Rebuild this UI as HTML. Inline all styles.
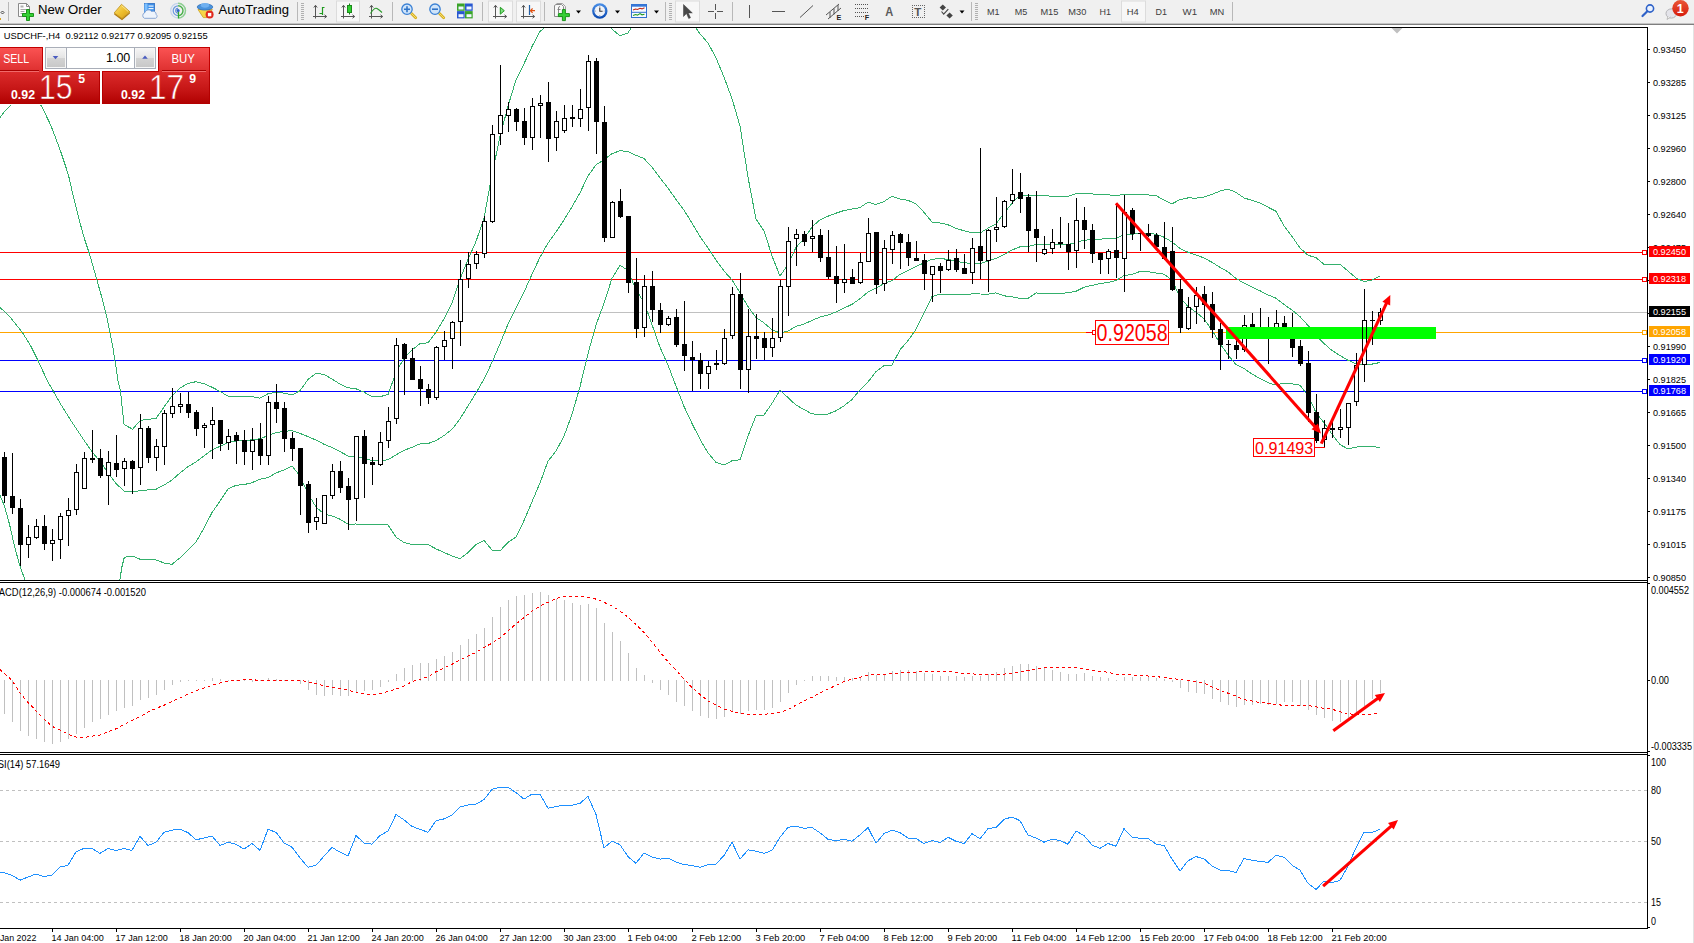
<!DOCTYPE html>
<html><head><meta charset="utf-8"><title>USDCHF-,H4</title>
<style>
html,body{margin:0;padding:0;background:#fff;overflow:hidden}
body{width:1694px;height:943px;position:relative;font-family:"Liberation Sans",sans-serif}
#tb{position:absolute;left:0;top:0;width:1694px;height:23px;background:#f0f0f0}
#tbl1{position:absolute;left:0;top:23px;width:1694px;height:2px;background:linear-gradient(#c4c4c4 0,#c4c4c4 50%,#7e7e7e 50%,#7e7e7e 100%)}
#chart{position:absolute;left:0;top:0}
svg text{font-family:"Liberation Sans",sans-serif}
#edge{position:absolute;left:1693px;top:25px;width:1px;height:918px;background:#e3e3e3}
</style></head><body>
<div id="tb"></div><div id="tbl1"></div><div id="edge"></div>
<svg id="chart" width="1694" height="943" viewBox="0 0 1694 943">
<defs><clipPath id="cmain"><rect x="0" y="28" width="1647" height="552"/></clipPath></defs>
<rect x="0" y="27" width="1648" height="1" fill="#000"/>
<rect x="1647" y="27" width="1" height="902" fill="#000"/>
<rect x="0" y="580" width="1648" height="1" fill="#000"/>
<rect x="0" y="582" width="1648" height="1" fill="#000"/>
<rect x="0" y="752" width="1648" height="1" fill="#000"/>
<rect x="0" y="754" width="1648" height="1" fill="#000"/>
<rect x="0" y="928" width="1648" height="1" fill="#000"/>
<rect x="1648" y="927" width="2" height="1" fill="#000"/>
<rect x="0" y="252" width="1647" height="1" fill="#ff0000"/>
<rect x="0" y="279" width="1647" height="1" fill="#ff0000"/>
<rect x="0" y="312" width="1647" height="1" fill="#c0c0c0"/>
<rect x="0" y="332" width="1647" height="1" fill="#ffa500"/>
<rect x="0" y="360" width="1647" height="1" fill="#0000ff"/>
<rect x="0" y="391" width="1647" height="1" fill="#0000ff"/>
<g shape-rendering="crispEdges">
<polyline points="0.0,117.5 5.0,111.0 11.0,104.8 18.0,99.0 26.0,96.0 34.0,99.0 41.4,105.7 50.9,125.5 60.5,150.9 68.4,174.8 73.8,198.6 79.5,220.9 84.3,238.4 89.1,252.7 95.5,275.0 101.8,297.3 106.6,316.4 109.8,332.3 113.0,348.2 115.5,364.1 118.4,383.2 120.5,390.6 122.0,405.5 124.1,424.5 132.6,429.2 140.4,420.3 148.5,419.2 156.0,418.5 164.0,407.1 172.0,395.7 180.0,388.1 188.0,383.4 196.0,381.7 204.0,383.7 212.0,387.2 220.0,391.4 228.0,396.2 236.0,396.7 244.0,396.8 252.0,396.7 260.0,398.2 268.0,393.8 276.0,392.2 284.0,393.1 292.0,395.1 300.0,390.7 308.0,379.5 316.0,373.3 324.0,374.5 332.0,379.0 340.0,384.1 348.0,387.8 356.0,388.8 364.0,392.1 372.0,396.8 380.0,396.7 388.0,394.5 396.0,372.8 404.0,358.0 412.0,350.1 420.0,343.5 428.0,342.8 436.0,332.3 444.0,318.7 452.0,302.7 460.0,279.2 468.0,259.5 476.0,241.5 484.0,218.1 492.0,174.7 500.0,136.6 508.0,106.1 516.0,79.9 524.0,63.8 532.0,46.5 540.0,31.5 548.0,25.0 556.0,12.9 564.0,3.7 572.0,-0.6 580.0,-1.0 588.0,-1.5 596.0,4.4 604.0,16.2 612.0,29.1 620.0,35.9 628.0,32.9 636.0,20.5 644.0,14.8 652.0,9.9 660.0,8.2 668.0,11.3 676.0,12.8 684.0,14.1 692.0,22.6 700.0,33.8 708.0,43.0 716.0,57.8 724.0,77.1 732.0,98.7 740.0,126.0 748.0,177.1 756.0,219.2 764.0,230.8 772.0,255.9 780.0,276.1 788.0,264.5 796.0,247.5 804.0,238.7 812.0,227.0 820.0,219.8 828.0,216.2 836.0,213.2 844.0,210.5 852.0,209.1 860.0,207.6 868.0,202.1 876.0,204.5 884.0,201.6 892.0,196.2 900.0,199.0 908.0,200.4 916.0,203.8 924.0,212.3 932.0,222.0 940.0,222.9 948.0,224.8 956.0,228.3 964.0,230.8 972.0,232.8 980.0,233.0 988.0,228.2 996.0,223.9 1004.0,213.2 1012.0,203.2 1020.0,195.3 1028.0,195.1 1036.0,195.6 1044.0,195.7 1052.0,196.2 1060.0,196.3 1068.0,196.2 1076.0,193.7 1084.0,193.4 1092.0,193.9 1100.0,194.6 1108.0,194.8 1116.0,195.6 1124.0,194.3 1132.0,194.1 1140.0,194.6 1148.0,194.9 1156.0,195.5 1164.0,200.1 1172.0,203.8 1180.0,199.6 1188.0,197.9 1196.0,198.1 1204.0,197.0 1212.0,194.3 1220.0,191.1 1228.0,189.0 1236.0,192.4 1244.0,197.9 1252.0,200.4 1260.0,202.9 1268.0,207.2 1276.0,211.3 1284.0,225.8 1292.0,236.4 1300.0,248.0 1308.0,255.2 1316.0,257.7 1324.0,264.3 1332.0,264.6 1340.0,264.3 1348.0,271.0 1356.0,278.0 1364.0,281.5 1372.0,280.0 1380.0,276.2" fill="none" stroke="#34b06c" stroke-width="1" clip-path="url(#cmain)"/>
<polyline points="0.0,307.4 9.5,316.4 22.3,332.3 30.2,345.0 38.2,360.9 47.4,381.0 53.0,390.6 61.5,405.5 72.1,422.4 84.8,441.5 92.3,452.1 100.3,461.7 108.4,473.3 116.4,483.9 124.3,491.3 132.3,491.8 140.4,490.7 148.5,489.9 156.0,489.2 164.0,485.1 172.0,480.0 180.0,472.9 188.0,466.7 196.0,461.8 204.0,455.9 212.0,449.9 220.0,446.3 228.0,442.5 236.0,441.0 244.0,440.7 252.0,439.7 260.0,438.7 268.0,435.7 276.0,432.6 284.0,431.5 292.0,430.5 300.0,433.4 308.0,436.6 316.0,440.1 324.0,444.2 332.0,447.5 340.0,451.6 348.0,456.0 356.0,456.4 364.0,458.3 372.0,460.6 380.0,460.5 388.0,459.8 396.0,454.9 404.0,450.3 412.0,447.3 420.0,443.9 428.0,443.6 436.0,440.6 444.0,435.6 452.0,429.3 460.0,418.9 468.0,406.0 476.0,392.9 484.0,379.2 492.0,362.3 500.0,343.7 508.0,324.2 516.0,308.4 524.0,292.2 532.0,274.2 540.0,257.2 548.0,243.1 556.0,231.9 564.0,219.9 572.0,206.8 580.0,192.8 588.0,176.0 596.0,164.8 604.0,159.7 612.0,153.7 620.0,150.7 628.0,151.6 636.0,155.3 644.0,158.5 652.0,167.3 660.0,177.8 668.0,188.2 676.0,199.4 684.0,210.2 692.0,223.0 700.0,236.6 708.0,247.9 716.0,260.1 724.0,271.0 732.0,279.8 740.0,292.8 748.0,306.6 756.0,317.4 764.0,322.9 772.0,329.7 780.0,333.1 788.0,331.0 796.0,326.3 804.0,324.1 812.0,320.4 820.0,317.1 828.0,315.1 836.0,312.0 844.0,308.1 852.0,304.3 860.0,298.7 868.0,292.1 876.0,288.1 884.0,283.6 892.0,280.7 900.0,274.4 908.0,270.5 916.0,266.6 924.0,262.8 932.0,259.3 940.0,258.5 948.0,259.4 956.0,261.2 964.0,262.8 972.0,263.4 980.0,263.5 988.0,261.2 996.0,258.4 1004.0,254.5 1012.0,250.0 1020.0,246.8 1028.0,246.7 1036.0,244.3 1044.0,244.4 1052.0,244.7 1060.0,244.8 1068.0,244.5 1076.0,242.5 1084.0,240.3 1092.0,239.6 1100.0,239.1 1108.0,238.7 1116.0,238.1 1124.0,235.0 1132.0,234.3 1140.0,233.0 1148.0,233.2 1156.0,234.2 1164.0,237.2 1172.0,242.0 1180.0,248.4 1188.0,252.3 1196.0,255.1 1204.0,257.9 1212.0,262.3 1220.0,267.3 1228.0,271.9 1236.0,278.4 1244.0,283.2 1252.0,287.2 1260.0,290.8 1268.0,294.9 1276.0,298.2 1284.0,304.5 1292.0,310.1 1300.0,316.6 1308.0,325.4 1316.0,335.1 1324.0,343.5 1332.0,350.5 1340.0,355.5 1348.0,360.3 1356.0,363.8 1364.0,364.6 1372.0,364.1 1380.0,362.5" fill="none" stroke="#34b06c" stroke-width="1" clip-path="url(#cmain)"/>
<polyline points="0.0,495.6 4.2,505.1 9.5,524.2 14.8,547.6 20.1,566.6 25.0,580.0" fill="none" stroke="#34b06c" stroke-width="1" clip-path="url(#cmain)"/>
<polyline points="119.8,580.0 122.0,566.6 124.1,558.2 127.3,556.5 132.3,556.0 140.0,559.2 148.5,559.9 156.0,559.9 164.0,563.0 172.0,564.3 180.0,557.8 188.0,550.0 196.0,541.9 204.0,528.1 212.0,512.6 220.0,501.1 228.0,488.9 236.0,485.3 244.0,484.6 252.0,482.7 260.0,479.2 268.0,477.6 276.0,473.0 284.0,469.9 292.0,465.9 300.0,476.1 308.0,493.7 316.0,507.0 324.0,514.0 332.0,515.9 340.0,519.2 348.0,524.2 356.0,524.0 364.0,524.4 372.0,524.3 380.0,524.3 388.0,525.0 396.0,537.1 404.0,542.5 412.0,544.5 420.0,544.2 428.0,544.4 436.0,548.9 444.0,552.5 452.0,555.9 460.0,558.7 468.0,552.6 476.0,544.4 484.0,540.4 492.0,550.0 500.0,550.9 508.0,542.3 516.0,537.0 524.0,520.6 532.0,501.8 540.0,482.9 548.0,461.2 556.0,451.0 564.0,436.1 572.0,414.3 580.0,386.7 588.0,353.6 596.0,325.1 604.0,303.2 612.0,278.3 620.0,265.4 628.0,270.2 636.0,290.0 644.0,302.2 652.0,324.7 660.0,347.3 668.0,365.1 676.0,386.0 684.0,406.4 692.0,423.4 700.0,439.3 708.0,452.8 716.0,462.4 724.0,465.0 732.0,460.8 740.0,459.7 748.0,436.0 756.0,415.7 764.0,415.0 772.0,403.4 780.0,390.1 788.0,397.6 796.0,405.1 804.0,409.5 812.0,413.9 820.0,414.4 828.0,414.0 836.0,410.8 844.0,405.8 852.0,399.5 860.0,389.8 868.0,382.0 876.0,371.6 884.0,365.6 892.0,365.2 900.0,349.8 908.0,340.6 916.0,329.4 924.0,313.4 932.0,296.6 940.0,294.1 948.0,294.1 956.0,294.2 964.0,294.9 972.0,293.9 980.0,294.0 988.0,294.2 996.0,292.9 1004.0,295.8 1012.0,296.9 1020.0,298.3 1028.0,298.3 1036.0,293.0 1044.0,293.1 1052.0,293.3 1060.0,293.3 1068.0,292.8 1076.0,291.2 1084.0,287.2 1092.0,285.4 1100.0,283.6 1108.0,282.5 1116.0,280.5 1124.0,275.6 1132.0,274.5 1140.0,271.4 1148.0,271.6 1156.0,273.0 1164.0,274.2 1172.0,280.1 1180.0,297.2 1188.0,306.6 1196.0,312.2 1204.0,318.8 1212.0,330.2 1220.0,343.5 1228.0,354.9 1236.0,364.5 1244.0,368.5 1252.0,374.0 1260.0,378.6 1268.0,382.7 1276.0,385.1 1284.0,383.1 1292.0,383.9 1300.0,385.2 1308.0,395.6 1316.0,412.6 1324.0,422.8 1332.0,434.1 1340.0,444.6 1348.0,448.9 1356.0,447.2 1364.0,446.0 1372.0,446.4 1380.0,447.5" fill="none" stroke="#34b06c" stroke-width="1" clip-path="url(#cmain)"/>
</g>
<rect x="4" y="452" width="1" height="51" fill="#000"/>
<rect x="2" y="457" width="5" height="39" fill="#000"/>
<rect x="12" y="453" width="1" height="61" fill="#000"/>
<rect x="10" y="496" width="5" height="12" fill="#000"/>
<rect x="20" y="499" width="1" height="67" fill="#000"/>
<rect x="18" y="508" width="5" height="37" fill="#000"/>
<rect x="28" y="525" width="1" height="33" fill="#000"/>
<rect x="26" y="537" width="5" height="8" fill="#000"/>
<rect x="27" y="538" width="3" height="6" fill="#fff"/>
<rect x="36" y="519" width="1" height="20" fill="#000"/>
<rect x="34" y="526" width="5" height="12" fill="#000"/>
<rect x="35" y="527" width="3" height="10" fill="#fff"/>
<rect x="44" y="515" width="1" height="35" fill="#000"/>
<rect x="42" y="526" width="5" height="18" fill="#000"/>
<rect x="52" y="529" width="1" height="32" fill="#000"/>
<rect x="50" y="540" width="5" height="4" fill="#000"/>
<rect x="51" y="541" width="3" height="2" fill="#fff"/>
<rect x="60" y="513" width="1" height="46" fill="#000"/>
<rect x="58" y="516" width="5" height="24" fill="#000"/>
<rect x="59" y="517" width="3" height="22" fill="#fff"/>
<rect x="68" y="498" width="1" height="48" fill="#000"/>
<rect x="66" y="510" width="5" height="6" fill="#000"/>
<rect x="67" y="511" width="3" height="4" fill="#fff"/>
<rect x="76" y="464" width="1" height="51" fill="#000"/>
<rect x="74" y="472" width="5" height="38" fill="#000"/>
<rect x="75" y="473" width="3" height="36" fill="#fff"/>
<rect x="84" y="452" width="1" height="37" fill="#000"/>
<rect x="82" y="458" width="5" height="31" fill="#000"/>
<rect x="83" y="459" width="3" height="29" fill="#fff"/>
<rect x="92" y="430" width="1" height="33" fill="#000"/>
<rect x="90" y="458" width="5" height="2" fill="#000"/>
<rect x="100" y="449" width="1" height="29" fill="#000"/>
<rect x="98" y="458" width="5" height="18" fill="#000"/>
<rect x="108" y="451" width="1" height="54" fill="#000"/>
<rect x="106" y="462" width="5" height="14" fill="#000"/>
<rect x="107" y="463" width="3" height="12" fill="#fff"/>
<rect x="116" y="435" width="1" height="42" fill="#000"/>
<rect x="114" y="463" width="5" height="7" fill="#000"/>
<rect x="124" y="458" width="1" height="28" fill="#000"/>
<rect x="122" y="461" width="5" height="8" fill="#000"/>
<rect x="123" y="462" width="3" height="6" fill="#fff"/>
<rect x="132" y="460" width="1" height="34" fill="#000"/>
<rect x="130" y="461" width="5" height="8" fill="#000"/>
<rect x="140" y="414" width="1" height="71" fill="#000"/>
<rect x="138" y="428" width="5" height="40" fill="#000"/>
<rect x="139" y="429" width="3" height="38" fill="#fff"/>
<rect x="148" y="426" width="1" height="37" fill="#000"/>
<rect x="146" y="428" width="5" height="30" fill="#000"/>
<rect x="156" y="439" width="1" height="32" fill="#000"/>
<rect x="154" y="446" width="5" height="12" fill="#000"/>
<rect x="155" y="447" width="3" height="10" fill="#fff"/>
<rect x="164" y="410" width="1" height="55" fill="#000"/>
<rect x="162" y="413" width="5" height="34" fill="#000"/>
<rect x="163" y="414" width="3" height="32" fill="#fff"/>
<rect x="172" y="388" width="1" height="30" fill="#000"/>
<rect x="170" y="406" width="5" height="8" fill="#000"/>
<rect x="171" y="407" width="3" height="6" fill="#fff"/>
<rect x="180" y="393" width="1" height="20" fill="#000"/>
<rect x="178" y="404" width="5" height="3" fill="#000"/>
<rect x="179" y="405" width="3" height="1" fill="#fff"/>
<rect x="188" y="392" width="1" height="26" fill="#000"/>
<rect x="186" y="404" width="5" height="9" fill="#000"/>
<rect x="196" y="410" width="1" height="26" fill="#000"/>
<rect x="194" y="412" width="5" height="17" fill="#000"/>
<rect x="204" y="423" width="1" height="25" fill="#000"/>
<rect x="202" y="425" width="5" height="3" fill="#000"/>
<rect x="203" y="426" width="3" height="1" fill="#fff"/>
<rect x="212" y="407" width="1" height="52" fill="#000"/>
<rect x="210" y="420" width="5" height="5" fill="#000"/>
<rect x="211" y="421" width="3" height="3" fill="#fff"/>
<rect x="220" y="420" width="1" height="31" fill="#000"/>
<rect x="218" y="420" width="5" height="24" fill="#000"/>
<rect x="228" y="429" width="1" height="21" fill="#000"/>
<rect x="226" y="436" width="5" height="7" fill="#000"/>
<rect x="227" y="437" width="3" height="5" fill="#fff"/>
<rect x="236" y="432" width="1" height="32" fill="#000"/>
<rect x="234" y="435" width="5" height="6" fill="#000"/>
<rect x="244" y="430" width="1" height="35" fill="#000"/>
<rect x="242" y="440" width="5" height="12" fill="#000"/>
<rect x="252" y="428" width="1" height="42" fill="#000"/>
<rect x="250" y="440" width="5" height="12" fill="#000"/>
<rect x="251" y="441" width="3" height="10" fill="#fff"/>
<rect x="260" y="423" width="1" height="42" fill="#000"/>
<rect x="258" y="439" width="5" height="17" fill="#000"/>
<rect x="268" y="396" width="1" height="69" fill="#000"/>
<rect x="266" y="402" width="5" height="54" fill="#000"/>
<rect x="267" y="403" width="3" height="52" fill="#fff"/>
<rect x="276" y="384" width="1" height="39" fill="#000"/>
<rect x="274" y="402" width="5" height="7" fill="#000"/>
<rect x="284" y="402" width="1" height="50" fill="#000"/>
<rect x="282" y="408" width="5" height="31" fill="#000"/>
<rect x="292" y="432" width="1" height="29" fill="#000"/>
<rect x="290" y="438" width="5" height="11" fill="#000"/>
<rect x="300" y="448" width="1" height="67" fill="#000"/>
<rect x="298" y="448" width="5" height="38" fill="#000"/>
<rect x="308" y="481" width="1" height="52" fill="#000"/>
<rect x="306" y="484" width="5" height="39" fill="#000"/>
<rect x="316" y="498" width="1" height="32" fill="#000"/>
<rect x="314" y="517" width="5" height="5" fill="#000"/>
<rect x="315" y="518" width="3" height="3" fill="#fff"/>
<rect x="324" y="495" width="1" height="29" fill="#000"/>
<rect x="322" y="495" width="5" height="29" fill="#000"/>
<rect x="323" y="496" width="3" height="27" fill="#fff"/>
<rect x="332" y="464" width="1" height="35" fill="#000"/>
<rect x="330" y="471" width="5" height="25" fill="#000"/>
<rect x="331" y="472" width="3" height="23" fill="#fff"/>
<rect x="340" y="461" width="1" height="32" fill="#000"/>
<rect x="338" y="471" width="5" height="17" fill="#000"/>
<rect x="348" y="478" width="1" height="52" fill="#000"/>
<rect x="346" y="486" width="5" height="14" fill="#000"/>
<rect x="356" y="436" width="1" height="85" fill="#000"/>
<rect x="354" y="436" width="5" height="63" fill="#000"/>
<rect x="355" y="437" width="3" height="61" fill="#fff"/>
<rect x="364" y="430" width="1" height="68" fill="#000"/>
<rect x="362" y="436" width="5" height="28" fill="#000"/>
<rect x="372" y="457" width="1" height="28" fill="#000"/>
<rect x="370" y="462" width="5" height="3" fill="#000"/>
<rect x="380" y="432" width="1" height="34" fill="#000"/>
<rect x="378" y="442" width="5" height="23" fill="#000"/>
<rect x="379" y="443" width="3" height="21" fill="#fff"/>
<rect x="388" y="407" width="1" height="41" fill="#000"/>
<rect x="386" y="421" width="5" height="20" fill="#000"/>
<rect x="387" y="422" width="3" height="18" fill="#fff"/>
<rect x="396" y="338" width="1" height="86" fill="#000"/>
<rect x="394" y="345" width="5" height="74" fill="#000"/>
<rect x="395" y="346" width="3" height="72" fill="#fff"/>
<rect x="404" y="343" width="1" height="52" fill="#000"/>
<rect x="402" y="344" width="5" height="15" fill="#000"/>
<rect x="412" y="348" width="1" height="32" fill="#000"/>
<rect x="410" y="358" width="5" height="22" fill="#000"/>
<rect x="420" y="366" width="1" height="40" fill="#000"/>
<rect x="418" y="379" width="5" height="10" fill="#000"/>
<rect x="428" y="384" width="1" height="20" fill="#000"/>
<rect x="426" y="389" width="5" height="9" fill="#000"/>
<rect x="436" y="346" width="1" height="54" fill="#000"/>
<rect x="434" y="347" width="5" height="51" fill="#000"/>
<rect x="435" y="348" width="3" height="49" fill="#fff"/>
<rect x="444" y="331" width="1" height="29" fill="#000"/>
<rect x="442" y="340" width="5" height="7" fill="#000"/>
<rect x="443" y="341" width="3" height="5" fill="#fff"/>
<rect x="452" y="321" width="1" height="48" fill="#000"/>
<rect x="450" y="322" width="5" height="17" fill="#000"/>
<rect x="451" y="323" width="3" height="15" fill="#fff"/>
<rect x="460" y="260" width="1" height="86" fill="#000"/>
<rect x="458" y="279" width="5" height="43" fill="#000"/>
<rect x="459" y="280" width="3" height="41" fill="#fff"/>
<rect x="468" y="252" width="1" height="36" fill="#000"/>
<rect x="466" y="264" width="5" height="15" fill="#000"/>
<rect x="467" y="265" width="3" height="13" fill="#fff"/>
<rect x="476" y="251" width="1" height="18" fill="#000"/>
<rect x="474" y="254" width="5" height="10" fill="#000"/>
<rect x="475" y="255" width="3" height="8" fill="#fff"/>
<rect x="484" y="216" width="1" height="42" fill="#000"/>
<rect x="482" y="221" width="5" height="33" fill="#000"/>
<rect x="483" y="222" width="3" height="31" fill="#fff"/>
<rect x="492" y="125" width="1" height="98" fill="#000"/>
<rect x="490" y="134" width="5" height="88" fill="#000"/>
<rect x="491" y="135" width="3" height="86" fill="#fff"/>
<rect x="500" y="65" width="1" height="80" fill="#000"/>
<rect x="498" y="115" width="5" height="19" fill="#000"/>
<rect x="499" y="116" width="3" height="17" fill="#fff"/>
<rect x="508" y="102" width="1" height="30" fill="#000"/>
<rect x="506" y="109" width="5" height="7" fill="#000"/>
<rect x="507" y="110" width="3" height="5" fill="#fff"/>
<rect x="516" y="108" width="1" height="23" fill="#000"/>
<rect x="514" y="109" width="5" height="13" fill="#000"/>
<rect x="524" y="108" width="1" height="37" fill="#000"/>
<rect x="522" y="121" width="5" height="17" fill="#000"/>
<rect x="532" y="98" width="1" height="52" fill="#000"/>
<rect x="530" y="106" width="5" height="32" fill="#000"/>
<rect x="531" y="107" width="3" height="30" fill="#fff"/>
<rect x="540" y="95" width="1" height="43" fill="#000"/>
<rect x="538" y="103" width="5" height="3" fill="#000"/>
<rect x="539" y="104" width="3" height="1" fill="#fff"/>
<rect x="548" y="82" width="1" height="80" fill="#000"/>
<rect x="546" y="102" width="5" height="37" fill="#000"/>
<rect x="556" y="111" width="1" height="40" fill="#000"/>
<rect x="554" y="121" width="5" height="17" fill="#000"/>
<rect x="555" y="122" width="3" height="15" fill="#fff"/>
<rect x="564" y="105" width="1" height="28" fill="#000"/>
<rect x="562" y="118" width="5" height="13" fill="#000"/>
<rect x="563" y="119" width="3" height="11" fill="#fff"/>
<rect x="572" y="105" width="1" height="22" fill="#000"/>
<rect x="570" y="117" width="5" height="2" fill="#000"/>
<rect x="580" y="89" width="1" height="38" fill="#000"/>
<rect x="578" y="109" width="5" height="10" fill="#000"/>
<rect x="579" y="110" width="3" height="8" fill="#fff"/>
<rect x="588" y="55" width="1" height="76" fill="#000"/>
<rect x="586" y="61" width="5" height="47" fill="#000"/>
<rect x="587" y="62" width="3" height="45" fill="#fff"/>
<rect x="596" y="58" width="1" height="96" fill="#000"/>
<rect x="594" y="61" width="5" height="61" fill="#000"/>
<rect x="604" y="106" width="1" height="136" fill="#000"/>
<rect x="602" y="122" width="5" height="116" fill="#000"/>
<rect x="612" y="201" width="1" height="37" fill="#000"/>
<rect x="610" y="202" width="5" height="36" fill="#000"/>
<rect x="611" y="203" width="3" height="34" fill="#fff"/>
<rect x="620" y="189" width="1" height="29" fill="#000"/>
<rect x="618" y="201" width="5" height="16" fill="#000"/>
<rect x="628" y="216" width="1" height="77" fill="#000"/>
<rect x="626" y="216" width="5" height="67" fill="#000"/>
<rect x="636" y="258" width="1" height="80" fill="#000"/>
<rect x="634" y="282" width="5" height="47" fill="#000"/>
<rect x="644" y="275" width="1" height="62" fill="#000"/>
<rect x="642" y="286" width="5" height="42" fill="#000"/>
<rect x="643" y="287" width="3" height="40" fill="#fff"/>
<rect x="652" y="271" width="1" height="51" fill="#000"/>
<rect x="650" y="286" width="5" height="24" fill="#000"/>
<rect x="660" y="303" width="1" height="30" fill="#000"/>
<rect x="658" y="310" width="5" height="15" fill="#000"/>
<rect x="668" y="316" width="1" height="10" fill="#000"/>
<rect x="666" y="318" width="5" height="7" fill="#000"/>
<rect x="667" y="319" width="3" height="5" fill="#fff"/>
<rect x="676" y="309" width="1" height="38" fill="#000"/>
<rect x="674" y="317" width="5" height="28" fill="#000"/>
<rect x="684" y="301" width="1" height="70" fill="#000"/>
<rect x="682" y="344" width="5" height="12" fill="#000"/>
<rect x="692" y="341" width="1" height="50" fill="#000"/>
<rect x="690" y="357" width="5" height="3" fill="#000"/>
<rect x="700" y="353" width="1" height="36" fill="#000"/>
<rect x="698" y="360" width="5" height="14" fill="#000"/>
<rect x="708" y="361" width="1" height="28" fill="#000"/>
<rect x="706" y="366" width="5" height="8" fill="#000"/>
<rect x="707" y="367" width="3" height="6" fill="#fff"/>
<rect x="716" y="350" width="1" height="20" fill="#000"/>
<rect x="714" y="363" width="5" height="2" fill="#000"/>
<rect x="724" y="329" width="1" height="36" fill="#000"/>
<rect x="722" y="338" width="5" height="26" fill="#000"/>
<rect x="723" y="339" width="3" height="24" fill="#fff"/>
<rect x="732" y="287" width="1" height="52" fill="#000"/>
<rect x="730" y="294" width="5" height="42" fill="#000"/>
<rect x="731" y="295" width="3" height="40" fill="#fff"/>
<rect x="740" y="273" width="1" height="116" fill="#000"/>
<rect x="738" y="294" width="5" height="76" fill="#000"/>
<rect x="748" y="309" width="1" height="84" fill="#000"/>
<rect x="746" y="336" width="5" height="34" fill="#000"/>
<rect x="747" y="337" width="3" height="32" fill="#fff"/>
<rect x="756" y="314" width="1" height="45" fill="#000"/>
<rect x="754" y="336" width="5" height="3" fill="#000"/>
<rect x="764" y="332" width="1" height="28" fill="#000"/>
<rect x="762" y="338" width="5" height="10" fill="#000"/>
<rect x="772" y="318" width="1" height="39" fill="#000"/>
<rect x="770" y="338" width="5" height="10" fill="#000"/>
<rect x="771" y="339" width="3" height="8" fill="#fff"/>
<rect x="780" y="280" width="1" height="62" fill="#000"/>
<rect x="778" y="286" width="5" height="52" fill="#000"/>
<rect x="779" y="287" width="3" height="50" fill="#fff"/>
<rect x="788" y="227" width="1" height="89" fill="#000"/>
<rect x="786" y="241" width="5" height="46" fill="#000"/>
<rect x="787" y="242" width="3" height="44" fill="#fff"/>
<rect x="796" y="229" width="1" height="37" fill="#000"/>
<rect x="794" y="234" width="5" height="5" fill="#000"/>
<rect x="795" y="235" width="3" height="3" fill="#fff"/>
<rect x="804" y="231" width="1" height="15" fill="#000"/>
<rect x="802" y="234" width="5" height="8" fill="#000"/>
<rect x="812" y="220" width="1" height="32" fill="#000"/>
<rect x="810" y="236" width="5" height="3" fill="#000"/>
<rect x="811" y="237" width="3" height="1" fill="#fff"/>
<rect x="820" y="229" width="1" height="33" fill="#000"/>
<rect x="818" y="235" width="5" height="23" fill="#000"/>
<rect x="828" y="230" width="1" height="49" fill="#000"/>
<rect x="826" y="257" width="5" height="20" fill="#000"/>
<rect x="836" y="246" width="1" height="57" fill="#000"/>
<rect x="834" y="276" width="5" height="8" fill="#000"/>
<rect x="844" y="244" width="1" height="49" fill="#000"/>
<rect x="842" y="279" width="5" height="4" fill="#000"/>
<rect x="843" y="280" width="3" height="2" fill="#fff"/>
<rect x="852" y="269" width="1" height="15" fill="#000"/>
<rect x="850" y="277" width="5" height="7" fill="#000"/>
<rect x="860" y="253" width="1" height="31" fill="#000"/>
<rect x="858" y="262" width="5" height="21" fill="#000"/>
<rect x="859" y="263" width="3" height="19" fill="#fff"/>
<rect x="868" y="218" width="1" height="44" fill="#000"/>
<rect x="866" y="233" width="5" height="29" fill="#000"/>
<rect x="867" y="234" width="3" height="27" fill="#fff"/>
<rect x="876" y="232" width="1" height="62" fill="#000"/>
<rect x="874" y="232" width="5" height="53" fill="#000"/>
<rect x="884" y="240" width="1" height="51" fill="#000"/>
<rect x="882" y="248" width="5" height="36" fill="#000"/>
<rect x="883" y="249" width="3" height="34" fill="#fff"/>
<rect x="892" y="231" width="1" height="33" fill="#000"/>
<rect x="890" y="235" width="5" height="15" fill="#000"/>
<rect x="891" y="236" width="3" height="13" fill="#fff"/>
<rect x="900" y="233" width="1" height="36" fill="#000"/>
<rect x="898" y="234" width="5" height="9" fill="#000"/>
<rect x="908" y="234" width="1" height="32" fill="#000"/>
<rect x="906" y="242" width="5" height="16" fill="#000"/>
<rect x="916" y="241" width="1" height="20" fill="#000"/>
<rect x="914" y="258" width="5" height="3" fill="#000"/>
<rect x="924" y="254" width="1" height="36" fill="#000"/>
<rect x="922" y="260" width="5" height="14" fill="#000"/>
<rect x="932" y="266" width="1" height="36" fill="#000"/>
<rect x="930" y="266" width="5" height="9" fill="#000"/>
<rect x="931" y="267" width="3" height="7" fill="#fff"/>
<rect x="940" y="263" width="1" height="30" fill="#000"/>
<rect x="938" y="266" width="5" height="5" fill="#000"/>
<rect x="948" y="250" width="1" height="21" fill="#000"/>
<rect x="946" y="260" width="5" height="10" fill="#000"/>
<rect x="947" y="261" width="3" height="8" fill="#fff"/>
<rect x="956" y="249" width="1" height="23" fill="#000"/>
<rect x="954" y="258" width="5" height="12" fill="#000"/>
<rect x="964" y="254" width="1" height="20" fill="#000"/>
<rect x="962" y="268" width="5" height="6" fill="#000"/>
<rect x="972" y="238" width="1" height="46" fill="#000"/>
<rect x="970" y="248" width="5" height="25" fill="#000"/>
<rect x="971" y="249" width="3" height="23" fill="#fff"/>
<rect x="980" y="148" width="1" height="131" fill="#000"/>
<rect x="978" y="246" width="5" height="15" fill="#000"/>
<rect x="988" y="229" width="1" height="63" fill="#000"/>
<rect x="986" y="230" width="5" height="31" fill="#000"/>
<rect x="987" y="231" width="3" height="29" fill="#fff"/>
<rect x="996" y="197" width="1" height="45" fill="#000"/>
<rect x="994" y="227" width="5" height="3" fill="#000"/>
<rect x="995" y="228" width="3" height="1" fill="#fff"/>
<rect x="1004" y="200" width="1" height="28" fill="#000"/>
<rect x="1002" y="201" width="5" height="26" fill="#000"/>
<rect x="1003" y="202" width="3" height="24" fill="#fff"/>
<rect x="1012" y="169" width="1" height="35" fill="#000"/>
<rect x="1010" y="194" width="5" height="7" fill="#000"/>
<rect x="1011" y="195" width="3" height="5" fill="#fff"/>
<rect x="1020" y="173" width="1" height="40" fill="#000"/>
<rect x="1018" y="192" width="5" height="7" fill="#000"/>
<rect x="1028" y="194" width="1" height="58" fill="#000"/>
<rect x="1026" y="197" width="5" height="34" fill="#000"/>
<rect x="1036" y="191" width="1" height="71" fill="#000"/>
<rect x="1034" y="229" width="5" height="9" fill="#000"/>
<rect x="1044" y="236" width="1" height="19" fill="#000"/>
<rect x="1042" y="249" width="5" height="5" fill="#000"/>
<rect x="1043" y="250" width="3" height="3" fill="#fff"/>
<rect x="1052" y="229" width="1" height="25" fill="#000"/>
<rect x="1050" y="242" width="5" height="7" fill="#000"/>
<rect x="1051" y="243" width="3" height="5" fill="#fff"/>
<rect x="1060" y="217" width="1" height="31" fill="#000"/>
<rect x="1058" y="242" width="5" height="2" fill="#000"/>
<rect x="1068" y="223" width="1" height="47" fill="#000"/>
<rect x="1066" y="244" width="5" height="8" fill="#000"/>
<rect x="1076" y="198" width="1" height="70" fill="#000"/>
<rect x="1074" y="220" width="5" height="31" fill="#000"/>
<rect x="1075" y="221" width="3" height="29" fill="#fff"/>
<rect x="1084" y="207" width="1" height="42" fill="#000"/>
<rect x="1082" y="220" width="5" height="10" fill="#000"/>
<rect x="1092" y="224" width="1" height="39" fill="#000"/>
<rect x="1090" y="230" width="5" height="24" fill="#000"/>
<rect x="1100" y="253" width="1" height="21" fill="#000"/>
<rect x="1098" y="253" width="5" height="7" fill="#000"/>
<rect x="1108" y="249" width="1" height="25" fill="#000"/>
<rect x="1106" y="251" width="5" height="8" fill="#000"/>
<rect x="1107" y="252" width="3" height="6" fill="#fff"/>
<rect x="1116" y="203" width="1" height="75" fill="#000"/>
<rect x="1114" y="250" width="5" height="8" fill="#000"/>
<rect x="1124" y="195" width="1" height="97" fill="#000"/>
<rect x="1122" y="212" width="5" height="47" fill="#000"/>
<rect x="1123" y="213" width="3" height="45" fill="#fff"/>
<rect x="1132" y="208" width="1" height="32" fill="#000"/>
<rect x="1130" y="210" width="5" height="24" fill="#000"/>
<rect x="1140" y="232" width="1" height="19" fill="#000"/>
<rect x="1138" y="233" width="5" height="1" fill="#000"/>
<rect x="1148" y="224" width="1" height="13" fill="#000"/>
<rect x="1146" y="233" width="5" height="3" fill="#000"/>
<rect x="1156" y="233" width="1" height="15" fill="#000"/>
<rect x="1154" y="235" width="5" height="12" fill="#000"/>
<rect x="1164" y="222" width="1" height="38" fill="#000"/>
<rect x="1162" y="247" width="5" height="12" fill="#000"/>
<rect x="1172" y="227" width="1" height="64" fill="#000"/>
<rect x="1170" y="251" width="5" height="39" fill="#000"/>
<rect x="1180" y="279" width="1" height="54" fill="#000"/>
<rect x="1178" y="289" width="5" height="39" fill="#000"/>
<rect x="1188" y="297" width="1" height="33" fill="#000"/>
<rect x="1186" y="307" width="5" height="22" fill="#000"/>
<rect x="1187" y="308" width="3" height="20" fill="#fff"/>
<rect x="1196" y="287" width="1" height="37" fill="#000"/>
<rect x="1194" y="295" width="5" height="12" fill="#000"/>
<rect x="1195" y="296" width="3" height="10" fill="#fff"/>
<rect x="1204" y="286" width="1" height="36" fill="#000"/>
<rect x="1202" y="294" width="5" height="11" fill="#000"/>
<rect x="1212" y="292" width="1" height="46" fill="#000"/>
<rect x="1210" y="304" width="5" height="26" fill="#000"/>
<rect x="1220" y="323" width="1" height="47" fill="#000"/>
<rect x="1218" y="329" width="5" height="16" fill="#000"/>
<rect x="1228" y="340" width="1" height="19" fill="#000"/>
<rect x="1226" y="344" width="5" height="1" fill="#000"/>
<rect x="1236" y="338" width="1" height="21" fill="#000"/>
<rect x="1234" y="345" width="5" height="5" fill="#000"/>
<rect x="1244" y="315" width="1" height="37" fill="#000"/>
<rect x="1242" y="325" width="5" height="25" fill="#000"/>
<rect x="1243" y="326" width="3" height="23" fill="#fff"/>
<rect x="1252" y="313" width="1" height="23" fill="#000"/>
<rect x="1250" y="324" width="5" height="9" fill="#000"/>
<rect x="1260" y="308" width="1" height="29" fill="#000"/>
<rect x="1258" y="331" width="5" height="2" fill="#000"/>
<rect x="1268" y="317" width="1" height="47" fill="#000"/>
<rect x="1266" y="331" width="5" height="3" fill="#000"/>
<rect x="1276" y="310" width="1" height="26" fill="#000"/>
<rect x="1274" y="323" width="5" height="11" fill="#000"/>
<rect x="1275" y="324" width="3" height="9" fill="#fff"/>
<rect x="1284" y="316" width="1" height="22" fill="#000"/>
<rect x="1282" y="323" width="5" height="14" fill="#000"/>
<rect x="1292" y="313" width="1" height="44" fill="#000"/>
<rect x="1290" y="337" width="5" height="11" fill="#000"/>
<rect x="1300" y="340" width="1" height="26" fill="#000"/>
<rect x="1298" y="346" width="5" height="18" fill="#000"/>
<rect x="1308" y="351" width="1" height="71" fill="#000"/>
<rect x="1306" y="363" width="5" height="50" fill="#000"/>
<rect x="1316" y="394" width="1" height="49" fill="#000"/>
<rect x="1314" y="412" width="5" height="29" fill="#000"/>
<rect x="1324" y="420" width="1" height="28" fill="#000"/>
<rect x="1322" y="428" width="5" height="12" fill="#000"/>
<rect x="1323" y="429" width="3" height="10" fill="#fff"/>
<rect x="1332" y="422" width="1" height="16" fill="#000"/>
<rect x="1330" y="428" width="5" height="2" fill="#000"/>
<rect x="1340" y="409" width="1" height="29" fill="#000"/>
<rect x="1338" y="427" width="5" height="3" fill="#000"/>
<rect x="1339" y="428" width="3" height="1" fill="#fff"/>
<rect x="1348" y="403" width="1" height="42" fill="#000"/>
<rect x="1346" y="403" width="5" height="25" fill="#000"/>
<rect x="1347" y="404" width="3" height="23" fill="#fff"/>
<rect x="1356" y="353" width="1" height="53" fill="#000"/>
<rect x="1354" y="365" width="5" height="37" fill="#000"/>
<rect x="1355" y="366" width="3" height="35" fill="#fff"/>
<rect x="1364" y="289" width="1" height="93" fill="#000"/>
<rect x="1362" y="320" width="5" height="45" fill="#000"/>
<rect x="1363" y="321" width="3" height="43" fill="#fff"/>
<rect x="1372" y="311" width="1" height="34" fill="#000"/>
<rect x="1370" y="320" width="5" height="1" fill="#000"/>
<rect x="1380" y="308" width="1" height="17" fill="#000"/>
<rect x="1378" y="312" width="5" height="9" fill="#000"/>
<rect x="1379" y="313" width="3" height="7" fill="#fff"/>
<rect x="1226" y="327" width="210" height="12" fill="#00ff00"/>
<rect x="1362" y="320" width="1" height="45" fill="#000"/>
<rect x="1366" y="320" width="1" height="45" fill="#000"/>
<rect x="1362" y="320" width="5" height="1" fill="#000"/>
<rect x="1362" y="364" width="5" height="1" fill="#000"/>
<rect x="1372" y="327" width="1" height="18" fill="#000"/>
<rect x="4" y="680" width="1" height="34" fill="#c0c0c0"/>
<rect x="12" y="680" width="1" height="42" fill="#c0c0c0"/>
<rect x="20" y="680" width="1" height="51" fill="#c0c0c0"/>
<rect x="28" y="680" width="1" height="56" fill="#c0c0c0"/>
<rect x="36" y="680" width="1" height="59" fill="#c0c0c0"/>
<rect x="44" y="680" width="1" height="62" fill="#c0c0c0"/>
<rect x="52" y="680" width="1" height="64" fill="#c0c0c0"/>
<rect x="60" y="680" width="1" height="62" fill="#c0c0c0"/>
<rect x="68" y="680" width="1" height="59" fill="#c0c0c0"/>
<rect x="76" y="680" width="1" height="54" fill="#c0c0c0"/>
<rect x="84" y="680" width="1" height="48" fill="#c0c0c0"/>
<rect x="92" y="680" width="1" height="42" fill="#c0c0c0"/>
<rect x="100" y="680" width="1" height="39" fill="#c0c0c0"/>
<rect x="108" y="680" width="1" height="35" fill="#c0c0c0"/>
<rect x="116" y="680" width="1" height="31" fill="#c0c0c0"/>
<rect x="124" y="680" width="1" height="28" fill="#c0c0c0"/>
<rect x="132" y="680" width="1" height="26" fill="#c0c0c0"/>
<rect x="140" y="680" width="1" height="20" fill="#c0c0c0"/>
<rect x="148" y="680" width="1" height="18" fill="#c0c0c0"/>
<rect x="156" y="680" width="1" height="15" fill="#c0c0c0"/>
<rect x="164" y="680" width="1" height="10" fill="#c0c0c0"/>
<rect x="172" y="680" width="1" height="5" fill="#c0c0c0"/>
<rect x="180" y="680" width="1" height="2" fill="#c0c0c0"/>
<rect x="188" y="680" width="1" height="1" fill="#c0c0c0"/>
<rect x="196" y="680" width="1" height="1" fill="#c0c0c0"/>
<rect x="204" y="680" width="1" height="1" fill="#c0c0c0"/>
<rect x="212" y="678" width="1" height="3" fill="#c0c0c0"/>
<rect x="220" y="679" width="1" height="2" fill="#c0c0c0"/>
<rect x="228" y="680" width="1" height="1" fill="#c0c0c0"/>
<rect x="236" y="680" width="1" height="1" fill="#c0c0c0"/>
<rect x="244" y="680" width="1" height="1" fill="#c0c0c0"/>
<rect x="252" y="680" width="1" height="2" fill="#c0c0c0"/>
<rect x="260" y="680" width="1" height="1" fill="#c0c0c0"/>
<rect x="268" y="678" width="1" height="3" fill="#c0c0c0"/>
<rect x="276" y="679" width="1" height="2" fill="#c0c0c0"/>
<rect x="284" y="680" width="1" height="1" fill="#c0c0c0"/>
<rect x="292" y="680" width="1" height="1" fill="#c0c0c0"/>
<rect x="300" y="680" width="1" height="4" fill="#c0c0c0"/>
<rect x="308" y="680" width="1" height="10" fill="#c0c0c0"/>
<rect x="316" y="680" width="1" height="15" fill="#c0c0c0"/>
<rect x="324" y="680" width="1" height="16" fill="#c0c0c0"/>
<rect x="332" y="680" width="1" height="15" fill="#c0c0c0"/>
<rect x="340" y="680" width="1" height="16" fill="#c0c0c0"/>
<rect x="348" y="680" width="1" height="16" fill="#c0c0c0"/>
<rect x="356" y="680" width="1" height="12" fill="#c0c0c0"/>
<rect x="364" y="680" width="1" height="11" fill="#c0c0c0"/>
<rect x="372" y="680" width="1" height="10" fill="#c0c0c0"/>
<rect x="380" y="680" width="1" height="7" fill="#c0c0c0"/>
<rect x="388" y="680" width="1" height="2" fill="#c0c0c0"/>
<rect x="396" y="674" width="1" height="7" fill="#c0c0c0"/>
<rect x="404" y="668" width="1" height="13" fill="#c0c0c0"/>
<rect x="412" y="665" width="1" height="16" fill="#c0c0c0"/>
<rect x="420" y="663" width="1" height="18" fill="#c0c0c0"/>
<rect x="428" y="663" width="1" height="18" fill="#c0c0c0"/>
<rect x="436" y="659" width="1" height="22" fill="#c0c0c0"/>
<rect x="444" y="656" width="1" height="25" fill="#c0c0c0"/>
<rect x="452" y="652" width="1" height="29" fill="#c0c0c0"/>
<rect x="460" y="645" width="1" height="36" fill="#c0c0c0"/>
<rect x="468" y="639" width="1" height="42" fill="#c0c0c0"/>
<rect x="476" y="634" width="1" height="47" fill="#c0c0c0"/>
<rect x="484" y="628" width="1" height="53" fill="#c0c0c0"/>
<rect x="492" y="617" width="1" height="64" fill="#c0c0c0"/>
<rect x="500" y="607" width="1" height="74" fill="#c0c0c0"/>
<rect x="508" y="600" width="1" height="81" fill="#c0c0c0"/>
<rect x="516" y="596" width="1" height="85" fill="#c0c0c0"/>
<rect x="524" y="595" width="1" height="86" fill="#c0c0c0"/>
<rect x="532" y="593" width="1" height="88" fill="#c0c0c0"/>
<rect x="540" y="592" width="1" height="89" fill="#c0c0c0"/>
<rect x="548" y="595" width="1" height="86" fill="#c0c0c0"/>
<rect x="556" y="599" width="1" height="82" fill="#c0c0c0"/>
<rect x="564" y="600" width="1" height="81" fill="#c0c0c0"/>
<rect x="572" y="603" width="1" height="78" fill="#c0c0c0"/>
<rect x="580" y="605" width="1" height="76" fill="#c0c0c0"/>
<rect x="588" y="604" width="1" height="77" fill="#c0c0c0"/>
<rect x="596" y="608" width="1" height="73" fill="#c0c0c0"/>
<rect x="604" y="623" width="1" height="58" fill="#c0c0c0"/>
<rect x="612" y="632" width="1" height="49" fill="#c0c0c0"/>
<rect x="620" y="641" width="1" height="40" fill="#c0c0c0"/>
<rect x="628" y="653" width="1" height="28" fill="#c0c0c0"/>
<rect x="636" y="668" width="1" height="13" fill="#c0c0c0"/>
<rect x="644" y="675" width="1" height="6" fill="#c0c0c0"/>
<rect x="652" y="680" width="1" height="3" fill="#c0c0c0"/>
<rect x="660" y="680" width="1" height="10" fill="#c0c0c0"/>
<rect x="668" y="680" width="1" height="15" fill="#c0c0c0"/>
<rect x="676" y="680" width="1" height="22" fill="#c0c0c0"/>
<rect x="684" y="680" width="1" height="26" fill="#c0c0c0"/>
<rect x="692" y="680" width="1" height="31" fill="#c0c0c0"/>
<rect x="700" y="680" width="1" height="36" fill="#c0c0c0"/>
<rect x="708" y="680" width="1" height="38" fill="#c0c0c0"/>
<rect x="716" y="680" width="1" height="39" fill="#c0c0c0"/>
<rect x="724" y="680" width="1" height="37" fill="#c0c0c0"/>
<rect x="732" y="680" width="1" height="31" fill="#c0c0c0"/>
<rect x="740" y="680" width="1" height="34" fill="#c0c0c0"/>
<rect x="748" y="680" width="1" height="31" fill="#c0c0c0"/>
<rect x="756" y="680" width="1" height="30" fill="#c0c0c0"/>
<rect x="764" y="680" width="1" height="30" fill="#c0c0c0"/>
<rect x="772" y="680" width="1" height="28" fill="#c0c0c0"/>
<rect x="780" y="680" width="1" height="22" fill="#c0c0c0"/>
<rect x="788" y="680" width="1" height="13" fill="#c0c0c0"/>
<rect x="796" y="680" width="1" height="5" fill="#c0c0c0"/>
<rect x="804" y="680" width="1" height="1" fill="#c0c0c0"/>
<rect x="812" y="676" width="1" height="5" fill="#c0c0c0"/>
<rect x="820" y="676" width="1" height="5" fill="#c0c0c0"/>
<rect x="828" y="676" width="1" height="5" fill="#c0c0c0"/>
<rect x="836" y="677" width="1" height="4" fill="#c0c0c0"/>
<rect x="844" y="677" width="1" height="4" fill="#c0c0c0"/>
<rect x="852" y="678" width="1" height="3" fill="#c0c0c0"/>
<rect x="860" y="677" width="1" height="4" fill="#c0c0c0"/>
<rect x="868" y="672" width="1" height="9" fill="#c0c0c0"/>
<rect x="876" y="675" width="1" height="6" fill="#c0c0c0"/>
<rect x="884" y="674" width="1" height="7" fill="#c0c0c0"/>
<rect x="892" y="671" width="1" height="10" fill="#c0c0c0"/>
<rect x="900" y="670" width="1" height="11" fill="#c0c0c0"/>
<rect x="908" y="670" width="1" height="11" fill="#c0c0c0"/>
<rect x="916" y="671" width="1" height="10" fill="#c0c0c0"/>
<rect x="924" y="673" width="1" height="8" fill="#c0c0c0"/>
<rect x="932" y="674" width="1" height="7" fill="#c0c0c0"/>
<rect x="940" y="676" width="1" height="5" fill="#c0c0c0"/>
<rect x="948" y="676" width="1" height="5" fill="#c0c0c0"/>
<rect x="956" y="676" width="1" height="5" fill="#c0c0c0"/>
<rect x="964" y="677" width="1" height="4" fill="#c0c0c0"/>
<rect x="972" y="676" width="1" height="5" fill="#c0c0c0"/>
<rect x="980" y="676" width="1" height="5" fill="#c0c0c0"/>
<rect x="988" y="674" width="1" height="7" fill="#c0c0c0"/>
<rect x="996" y="672" width="1" height="9" fill="#c0c0c0"/>
<rect x="1004" y="668" width="1" height="13" fill="#c0c0c0"/>
<rect x="1012" y="666" width="1" height="15" fill="#c0c0c0"/>
<rect x="1020" y="664" width="1" height="17" fill="#c0c0c0"/>
<rect x="1028" y="664" width="1" height="17" fill="#c0c0c0"/>
<rect x="1036" y="666" width="1" height="15" fill="#c0c0c0"/>
<rect x="1044" y="668" width="1" height="13" fill="#c0c0c0"/>
<rect x="1052" y="670" width="1" height="11" fill="#c0c0c0"/>
<rect x="1060" y="672" width="1" height="9" fill="#c0c0c0"/>
<rect x="1068" y="674" width="1" height="7" fill="#c0c0c0"/>
<rect x="1076" y="674" width="1" height="7" fill="#c0c0c0"/>
<rect x="1084" y="673" width="1" height="8" fill="#c0c0c0"/>
<rect x="1092" y="676" width="1" height="5" fill="#c0c0c0"/>
<rect x="1100" y="677" width="1" height="4" fill="#c0c0c0"/>
<rect x="1108" y="678" width="1" height="3" fill="#c0c0c0"/>
<rect x="1116" y="680" width="1" height="1" fill="#c0c0c0"/>
<rect x="1124" y="677" width="1" height="4" fill="#c0c0c0"/>
<rect x="1132" y="677" width="1" height="4" fill="#c0c0c0"/>
<rect x="1140" y="677" width="1" height="4" fill="#c0c0c0"/>
<rect x="1148" y="677" width="1" height="4" fill="#c0c0c0"/>
<rect x="1156" y="678" width="1" height="3" fill="#c0c0c0"/>
<rect x="1164" y="679" width="1" height="2" fill="#c0c0c0"/>
<rect x="1172" y="680" width="1" height="2" fill="#c0c0c0"/>
<rect x="1180" y="680" width="1" height="8" fill="#c0c0c0"/>
<rect x="1188" y="680" width="1" height="12" fill="#c0c0c0"/>
<rect x="1196" y="680" width="1" height="13" fill="#c0c0c0"/>
<rect x="1204" y="680" width="1" height="14" fill="#c0c0c0"/>
<rect x="1212" y="680" width="1" height="19" fill="#c0c0c0"/>
<rect x="1220" y="680" width="1" height="22" fill="#c0c0c0"/>
<rect x="1228" y="680" width="1" height="25" fill="#c0c0c0"/>
<rect x="1236" y="680" width="1" height="27" fill="#c0c0c0"/>
<rect x="1244" y="680" width="1" height="25" fill="#c0c0c0"/>
<rect x="1252" y="680" width="1" height="25" fill="#c0c0c0"/>
<rect x="1260" y="680" width="1" height="24" fill="#c0c0c0"/>
<rect x="1268" y="680" width="1" height="25" fill="#c0c0c0"/>
<rect x="1276" y="680" width="1" height="24" fill="#c0c0c0"/>
<rect x="1284" y="680" width="1" height="22" fill="#c0c0c0"/>
<rect x="1292" y="680" width="1" height="22" fill="#c0c0c0"/>
<rect x="1300" y="680" width="1" height="26" fill="#c0c0c0"/>
<rect x="1308" y="680" width="1" height="30" fill="#c0c0c0"/>
<rect x="1316" y="680" width="1" height="35" fill="#c0c0c0"/>
<rect x="1324" y="680" width="1" height="38" fill="#c0c0c0"/>
<rect x="1332" y="680" width="1" height="41" fill="#c0c0c0"/>
<rect x="1340" y="680" width="1" height="42" fill="#c0c0c0"/>
<rect x="1348" y="680" width="1" height="40" fill="#c0c0c0"/>
<rect x="1356" y="680" width="1" height="35" fill="#c0c0c0"/>
<rect x="1364" y="680" width="1" height="26" fill="#c0c0c0"/>
<rect x="1372" y="680" width="1" height="19" fill="#c0c0c0"/>
<rect x="1380" y="680" width="1" height="13" fill="#c0c0c0"/>
<g shape-rendering="crispEdges">
<polyline points="0.0,669.5 12.0,680.4 20.0,692.8 28.0,702.7 36.0,710.7 44.0,718.9 52.0,726.3 60.0,730.0 68.0,734.2 76.0,737.0 84.0,737.5 92.0,736.2 100.0,735.0 108.0,731.7 116.0,728.8 124.0,724.6 132.0,720.6 140.0,716.4 148.0,712.2 156.0,708.4 164.0,705.2 172.0,701.5 180.0,697.8 188.0,694.1 196.0,690.8 204.0,687.9 212.0,685.4 220.0,682.9 228.0,681.2 236.0,680.4 244.0,679.7 252.0,679.7 260.0,680.4 268.0,680.4 276.0,680.4 284.0,680.4 292.0,680.4 300.0,680.4 308.0,681.7 316.0,683.6 324.0,685.9 332.0,687.1 340.0,688.4 348.0,690.3 356.0,692.1 364.0,693.6 372.0,694.6 380.0,693.6 388.0,691.6 396.0,689.1 404.0,686.1 412.0,681.7 420.0,679.2 428.0,676.7 436.0,671.7 444.0,668.0 452.0,664.3 460.0,659.8 468.0,656.1 476.0,652.4 484.0,647.4 492.0,643.2 500.0,637.8 508.0,630.8 516.0,623.9 524.0,617.7 532.0,611.0 540.0,606.0 548.0,602.3 556.0,598.6 564.0,596.6 572.0,596.6 580.0,596.6 588.0,597.4 596.0,599.1 604.0,602.3 612.0,606.0 620.0,611.0 628.0,617.2 636.0,624.6 644.0,632.6 652.0,642.0 660.0,651.9 668.0,661.8 676.0,669.8 684.0,679.2 692.0,687.4 700.0,694.6 708.0,700.8 716.0,705.2 724.0,708.9 732.0,711.4 740.0,713.1 748.0,714.4 756.0,714.4 764.0,714.4 772.0,713.4 780.0,712.7 788.0,709.4 796.0,705.2 804.0,700.8 812.0,697.3 820.0,692.8 828.0,689.1 836.0,685.4 844.0,681.7 852.0,679.2 860.0,677.2 868.0,675.0 876.0,674.7 884.0,674.2 892.0,673.5 900.0,673.0 908.0,672.5 916.0,672.2 924.0,671.7 932.0,671.7 940.0,671.7 948.0,671.7 956.0,672.2 964.0,673.5 972.0,673.7 980.0,674.7 988.0,674.7 996.0,674.2 1004.0,674.2 1012.0,673.0 1020.0,671.7 1028.0,670.5 1036.0,669.3 1044.0,668.0 1052.0,667.5 1060.0,667.5 1068.0,667.5 1076.0,667.5 1084.0,668.5 1092.0,670.5 1100.0,671.2 1108.0,672.2 1116.0,674.2 1124.0,674.2 1132.0,675.0 1140.0,675.5 1148.0,676.0 1156.0,676.7 1164.0,677.4 1172.0,678.4 1180.0,679.7 1188.0,680.4 1196.0,681.7 1204.0,683.2 1212.0,687.0 1220.0,690.2 1228.0,693.2 1236.0,696.1 1244.0,699.6 1252.0,701.0 1260.0,702.5 1268.0,703.4 1276.0,704.5 1284.0,705.4 1292.0,705.4 1300.0,705.4 1308.0,705.4 1316.0,706.9 1324.0,708.3 1332.0,709.2 1340.0,711.8 1348.0,713.6 1356.0,714.7 1364.0,715.0 1372.0,714.1 1380.0,713.3" fill="none" stroke="#ff0000" stroke-width="1" stroke-dasharray="3 3"/>
</g>
<line x1="0" y1="790.5" x2="1647" y2="790.5" stroke="#c0c0c0" stroke-width="1" stroke-dasharray="3 3" shape-rendering="crispEdges"/>
<line x1="0" y1="841.5" x2="1647" y2="841.5" stroke="#c0c0c0" stroke-width="1" stroke-dasharray="3 3" shape-rendering="crispEdges"/>
<line x1="0" y1="902.5" x2="1647" y2="902.5" stroke="#c0c0c0" stroke-width="1" stroke-dasharray="3 3" shape-rendering="crispEdges"/>
<g shape-rendering="crispEdges">
<polyline points="0.0,872.0 4.0,872.7 12.0,875.2 20.0,880.2 28.0,877.0 36.0,874.0 44.0,876.5 52.0,875.2 60.0,867.0 68.0,865.3 76.0,851.7 84.0,848.4 92.0,848.4 100.0,853.4 108.0,848.4 116.0,850.4 124.0,848.4 132.0,850.4 140.0,836.3 148.0,845.5 156.0,842.2 164.0,832.3 172.0,830.1 180.0,829.3 188.0,832.6 196.0,839.8 204.0,838.0 212.0,836.0 220.0,845.5 228.0,842.2 236.0,844.2 244.0,849.2 252.0,843.5 260.0,850.4 268.0,829.3 276.0,832.3 284.0,843.0 292.0,847.2 300.0,857.9 308.0,867.3 316.0,865.3 324.0,856.1 332.0,847.4 340.0,852.2 348.0,856.1 356.0,835.5 364.0,843.0 372.0,844.2 380.0,835.5 388.0,831.1 396.0,814.5 404.0,819.8 412.0,826.4 420.0,829.3 428.0,832.3 436.0,820.7 444.0,818.9 452.0,815.0 460.0,807.0 468.0,805.0 476.0,804.1 484.0,799.6 492.0,789.2 500.0,787.2 508.0,787.2 516.0,792.6 524.0,799.1 532.0,794.1 540.0,794.1 548.0,808.3 556.0,806.5 564.0,805.3 572.0,805.3 580.0,803.3 588.0,796.4 596.0,814.5 604.0,847.9 612.0,841.2 620.0,844.7 628.0,856.6 636.0,863.3 644.0,852.9 652.0,857.1 660.0,859.1 668.0,858.1 676.0,862.1 684.0,864.6 692.0,865.5 700.0,867.3 708.0,864.6 716.0,864.1 724.0,855.4 732.0,842.2 740.0,859.1 748.0,849.9 756.0,851.2 764.0,853.4 772.0,850.4 780.0,837.3 788.0,827.4 796.0,826.1 804.0,828.3 812.0,827.5 820.0,832.8 828.0,839.3 836.0,840.8 844.0,839.3 852.0,841.2 860.0,834.8 868.0,827.6 876.0,843.2 884.0,833.6 892.0,830.1 900.0,832.6 908.0,838.0 916.0,838.5 924.0,843.5 932.0,840.5 940.0,842.5 948.0,837.3 956.0,841.2 964.0,843.7 972.0,833.6 980.0,838.8 988.0,828.6 996.0,827.4 1004.0,819.4 1012.0,816.9 1020.0,820.7 1028.0,835.0 1036.0,838.0 1044.0,842.2 1052.0,839.3 1060.0,840.5 1068.0,844.2 1076.0,831.1 1084.0,835.5 1092.0,845.0 1100.0,848.4 1108.0,843.5 1116.0,846.2 1124.0,828.6 1132.0,837.3 1140.0,838.3 1148.0,838.3 1156.0,844.2 1164.0,845.5 1172.0,859.1 1180.0,871.0 1188.0,860.8 1196.0,856.6 1204.0,858.8 1212.0,866.0 1220.0,870.0 1228.0,870.4 1236.0,872.5 1244.0,858.5 1252.0,860.2 1260.0,861.4 1268.0,862.3 1276.0,855.3 1284.0,857.3 1292.0,865.2 1300.0,870.2 1308.0,883.3 1316.0,889.4 1324.0,881.2 1332.0,882.7 1340.0,880.4 1348.0,866.1 1356.0,847.7 1364.0,832.5 1372.0,832.5 1380.0,829.3" fill="none" stroke="#1e90ff" stroke-width="1"/>
</g>
<rect x="1648" y="49" width="2" height="1" fill="#000"/>
<text x="1653" y="53" font-size="9.8" fill="#000" text-anchor="start" font-weight="normal" textLength="33" lengthAdjust="spacingAndGlyphs">0.93450</text>
<rect x="1648" y="82" width="2" height="1" fill="#000"/>
<text x="1653" y="86" font-size="9.8" fill="#000" text-anchor="start" font-weight="normal" textLength="33" lengthAdjust="spacingAndGlyphs">0.93285</text>
<rect x="1648" y="115" width="2" height="1" fill="#000"/>
<text x="1653" y="119" font-size="9.8" fill="#000" text-anchor="start" font-weight="normal" textLength="33" lengthAdjust="spacingAndGlyphs">0.93125</text>
<rect x="1648" y="148" width="2" height="1" fill="#000"/>
<text x="1653" y="152" font-size="9.8" fill="#000" text-anchor="start" font-weight="normal" textLength="33" lengthAdjust="spacingAndGlyphs">0.92960</text>
<rect x="1648" y="181" width="2" height="1" fill="#000"/>
<text x="1653" y="185" font-size="9.8" fill="#000" text-anchor="start" font-weight="normal" textLength="33" lengthAdjust="spacingAndGlyphs">0.92800</text>
<rect x="1648" y="214" width="2" height="1" fill="#000"/>
<text x="1653" y="218" font-size="9.8" fill="#000" text-anchor="start" font-weight="normal" textLength="33" lengthAdjust="spacingAndGlyphs">0.92640</text>
<rect x="1648" y="247" width="2" height="1" fill="#000"/>
<text x="1653" y="251" font-size="9.8" fill="#000" text-anchor="start" font-weight="normal" textLength="33" lengthAdjust="spacingAndGlyphs">0.92475</text>
<rect x="1648" y="280" width="2" height="1" fill="#000"/>
<text x="1653" y="284" font-size="9.8" fill="#000" text-anchor="start" font-weight="normal" textLength="33" lengthAdjust="spacingAndGlyphs">0.92315</text>
<rect x="1648" y="313" width="2" height="1" fill="#000"/>
<text x="1653" y="317" font-size="9.8" fill="#000" text-anchor="start" font-weight="normal" textLength="33" lengthAdjust="spacingAndGlyphs">0.92155</text>
<rect x="1648" y="346" width="2" height="1" fill="#000"/>
<text x="1653" y="350" font-size="9.8" fill="#000" text-anchor="start" font-weight="normal" textLength="33" lengthAdjust="spacingAndGlyphs">0.91990</text>
<rect x="1648" y="379" width="2" height="1" fill="#000"/>
<text x="1653" y="383" font-size="9.8" fill="#000" text-anchor="start" font-weight="normal" textLength="33" lengthAdjust="spacingAndGlyphs">0.91825</text>
<rect x="1648" y="412" width="2" height="1" fill="#000"/>
<text x="1653" y="416" font-size="9.8" fill="#000" text-anchor="start" font-weight="normal" textLength="33" lengthAdjust="spacingAndGlyphs">0.91665</text>
<rect x="1648" y="445" width="2" height="1" fill="#000"/>
<text x="1653" y="449" font-size="9.8" fill="#000" text-anchor="start" font-weight="normal" textLength="33" lengthAdjust="spacingAndGlyphs">0.91500</text>
<rect x="1648" y="478" width="2" height="1" fill="#000"/>
<text x="1653" y="482" font-size="9.8" fill="#000" text-anchor="start" font-weight="normal" textLength="33" lengthAdjust="spacingAndGlyphs">0.91340</text>
<rect x="1648" y="511" width="2" height="1" fill="#000"/>
<text x="1653" y="515" font-size="9.8" fill="#000" text-anchor="start" font-weight="normal" textLength="33" lengthAdjust="spacingAndGlyphs">0.91175</text>
<rect x="1648" y="544" width="2" height="1" fill="#000"/>
<text x="1653" y="548" font-size="9.8" fill="#000" text-anchor="start" font-weight="normal" textLength="33" lengthAdjust="spacingAndGlyphs">0.91015</text>
<rect x="1648" y="577" width="2" height="1" fill="#000"/>
<text x="1653" y="581" font-size="9.8" fill="#000" text-anchor="start" font-weight="normal" textLength="33" lengthAdjust="spacingAndGlyphs">0.90850</text>
<rect x="1649" y="246" width="41" height="11" fill="#ff0000"/>
<text x="1653" y="255" font-size="9.8" fill="#fff" text-anchor="start" font-weight="normal" textLength="33" lengthAdjust="spacingAndGlyphs">0.92450</text>
<rect x="1642" y="250" width="5" height="5" fill="#ff0000"/>
<rect x="1643" y="251" width="3" height="3" fill="#fff"/>
<rect x="1649" y="273" width="41" height="11" fill="#ff0000"/>
<text x="1653" y="282" font-size="9.8" fill="#fff" text-anchor="start" font-weight="normal" textLength="33" lengthAdjust="spacingAndGlyphs">0.92318</text>
<rect x="1642" y="277" width="5" height="5" fill="#ff0000"/>
<rect x="1643" y="278" width="3" height="3" fill="#fff"/>
<rect x="1649" y="306" width="41" height="11" fill="#000"/>
<text x="1653" y="315" font-size="9.8" fill="#fff" text-anchor="start" font-weight="normal" textLength="33" lengthAdjust="spacingAndGlyphs">0.92155</text>
<rect x="1649" y="326" width="41" height="11" fill="#ffa500"/>
<text x="1653" y="335" font-size="9.8" fill="#fff" text-anchor="start" font-weight="normal" textLength="33" lengthAdjust="spacingAndGlyphs">0.92058</text>
<rect x="1642" y="330" width="5" height="5" fill="#ffa500"/>
<rect x="1643" y="331" width="3" height="3" fill="#fff"/>
<rect x="1649" y="354" width="41" height="11" fill="#0000ff"/>
<text x="1653" y="363" font-size="9.8" fill="#fff" text-anchor="start" font-weight="normal" textLength="33" lengthAdjust="spacingAndGlyphs">0.91920</text>
<rect x="1642" y="358" width="5" height="5" fill="#0000ff"/>
<rect x="1643" y="359" width="3" height="3" fill="#fff"/>
<rect x="1649" y="385" width="41" height="11" fill="#0000ff"/>
<text x="1653" y="394" font-size="9.8" fill="#fff" text-anchor="start" font-weight="normal" textLength="33" lengthAdjust="spacingAndGlyphs">0.91768</text>
<rect x="1642" y="389" width="5" height="5" fill="#0000ff"/>
<rect x="1643" y="390" width="3" height="3" fill="#fff"/>
<rect x="1648" y="583" width="2" height="1" fill="#000"/>
<text x="1651" y="593.5" font-size="10" fill="#000" text-anchor="start" font-weight="normal" textLength="38" lengthAdjust="spacingAndGlyphs">0.004552</text>
<rect x="1648" y="680" width="2" height="1" fill="#000"/>
<text x="1651" y="684" font-size="10" fill="#000" text-anchor="start" font-weight="normal" textLength="18" lengthAdjust="spacingAndGlyphs">0.00</text>
<rect x="1648" y="751" width="2" height="1" fill="#000"/>
<text x="1651" y="749.5" font-size="10" fill="#000" text-anchor="start" font-weight="normal" textLength="41" lengthAdjust="spacingAndGlyphs">-0.003335</text>
<rect x="1648" y="755" width="2" height="1" fill="#000"/>
<text x="1651" y="765.5" font-size="10" fill="#000" text-anchor="start" font-weight="normal" textLength="15" lengthAdjust="spacingAndGlyphs">100</text>
<text x="1651" y="794" font-size="10" fill="#000" text-anchor="start" font-weight="normal" textLength="10" lengthAdjust="spacingAndGlyphs">80</text>
<text x="1651" y="845" font-size="10" fill="#000" text-anchor="start" font-weight="normal" textLength="10" lengthAdjust="spacingAndGlyphs">50</text>
<text x="1651" y="906" font-size="10" fill="#000" text-anchor="start" font-weight="normal" textLength="10" lengthAdjust="spacingAndGlyphs">15</text>
<text x="1651" y="925" font-size="10" fill="#000" text-anchor="start" font-weight="normal" textLength="5" lengthAdjust="spacingAndGlyphs">0</text>
<rect x="-12" y="929" width="1" height="3" fill="#000"/>
<text x="-12.4" y="941" font-size="9.7" fill="#000" text-anchor="start" font-weight="normal" textLength="48.7" lengthAdjust="spacingAndGlyphs">12 Jan 2022</text>
<rect x="52" y="929" width="1" height="3" fill="#000"/>
<text x="51.6" y="941" font-size="9.7" fill="#000" text-anchor="start" font-weight="normal" textLength="52.3" lengthAdjust="spacingAndGlyphs">14 Jan 04:00</text>
<rect x="116" y="929" width="1" height="3" fill="#000"/>
<text x="115.6" y="941" font-size="9.7" fill="#000" text-anchor="start" font-weight="normal" textLength="52.3" lengthAdjust="spacingAndGlyphs">17 Jan 12:00</text>
<rect x="180" y="929" width="1" height="3" fill="#000"/>
<text x="179.6" y="941" font-size="9.7" fill="#000" text-anchor="start" font-weight="normal" textLength="52.3" lengthAdjust="spacingAndGlyphs">18 Jan 20:00</text>
<rect x="244" y="929" width="1" height="3" fill="#000"/>
<text x="243.6" y="941" font-size="9.7" fill="#000" text-anchor="start" font-weight="normal" textLength="52.3" lengthAdjust="spacingAndGlyphs">20 Jan 04:00</text>
<rect x="308" y="929" width="1" height="3" fill="#000"/>
<text x="307.6" y="941" font-size="9.7" fill="#000" text-anchor="start" font-weight="normal" textLength="52.3" lengthAdjust="spacingAndGlyphs">21 Jan 12:00</text>
<rect x="372" y="929" width="1" height="3" fill="#000"/>
<text x="371.6" y="941" font-size="9.7" fill="#000" text-anchor="start" font-weight="normal" textLength="52.3" lengthAdjust="spacingAndGlyphs">24 Jan 20:00</text>
<rect x="436" y="929" width="1" height="3" fill="#000"/>
<text x="435.6" y="941" font-size="9.7" fill="#000" text-anchor="start" font-weight="normal" textLength="52.3" lengthAdjust="spacingAndGlyphs">26 Jan 04:00</text>
<rect x="500" y="929" width="1" height="3" fill="#000"/>
<text x="499.6" y="941" font-size="9.7" fill="#000" text-anchor="start" font-weight="normal" textLength="52.3" lengthAdjust="spacingAndGlyphs">27 Jan 12:00</text>
<rect x="564" y="929" width="1" height="3" fill="#000"/>
<text x="563.6" y="941" font-size="9.7" fill="#000" text-anchor="start" font-weight="normal" textLength="52.3" lengthAdjust="spacingAndGlyphs">30 Jan 23:00</text>
<rect x="628" y="929" width="1" height="3" fill="#000"/>
<text x="627.6" y="941" font-size="9.7" fill="#000" text-anchor="start" font-weight="normal" textLength="49.7" lengthAdjust="spacingAndGlyphs">1 Feb 04:00</text>
<rect x="692" y="929" width="1" height="3" fill="#000"/>
<text x="691.6" y="941" font-size="9.7" fill="#000" text-anchor="start" font-weight="normal" textLength="49.7" lengthAdjust="spacingAndGlyphs">2 Feb 12:00</text>
<rect x="756" y="929" width="1" height="3" fill="#000"/>
<text x="755.6" y="941" font-size="9.7" fill="#000" text-anchor="start" font-weight="normal" textLength="49.7" lengthAdjust="spacingAndGlyphs">3 Feb 20:00</text>
<rect x="820" y="929" width="1" height="3" fill="#000"/>
<text x="819.6" y="941" font-size="9.7" fill="#000" text-anchor="start" font-weight="normal" textLength="49.7" lengthAdjust="spacingAndGlyphs">7 Feb 04:00</text>
<rect x="884" y="929" width="1" height="3" fill="#000"/>
<text x="883.6" y="941" font-size="9.7" fill="#000" text-anchor="start" font-weight="normal" textLength="49.7" lengthAdjust="spacingAndGlyphs">8 Feb 12:00</text>
<rect x="948" y="929" width="1" height="3" fill="#000"/>
<text x="947.6" y="941" font-size="9.7" fill="#000" text-anchor="start" font-weight="normal" textLength="49.7" lengthAdjust="spacingAndGlyphs">9 Feb 20:00</text>
<rect x="1012" y="929" width="1" height="3" fill="#000"/>
<text x="1011.6" y="941" font-size="9.7" fill="#000" text-anchor="start" font-weight="normal" textLength="55" lengthAdjust="spacingAndGlyphs">11 Feb 04:00</text>
<rect x="1076" y="929" width="1" height="3" fill="#000"/>
<text x="1075.6" y="941" font-size="9.7" fill="#000" text-anchor="start" font-weight="normal" textLength="55" lengthAdjust="spacingAndGlyphs">14 Feb 12:00</text>
<rect x="1140" y="929" width="1" height="3" fill="#000"/>
<text x="1139.6" y="941" font-size="9.7" fill="#000" text-anchor="start" font-weight="normal" textLength="55" lengthAdjust="spacingAndGlyphs">15 Feb 20:00</text>
<rect x="1204" y="929" width="1" height="3" fill="#000"/>
<text x="1203.6" y="941" font-size="9.7" fill="#000" text-anchor="start" font-weight="normal" textLength="55" lengthAdjust="spacingAndGlyphs">17 Feb 04:00</text>
<rect x="1268" y="929" width="1" height="3" fill="#000"/>
<text x="1267.6" y="941" font-size="9.7" fill="#000" text-anchor="start" font-weight="normal" textLength="55" lengthAdjust="spacingAndGlyphs">18 Feb 12:00</text>
<rect x="1332" y="929" width="1" height="3" fill="#000"/>
<text x="1331.6" y="941" font-size="9.7" fill="#000" text-anchor="start" font-weight="normal" textLength="55" lengthAdjust="spacingAndGlyphs">21 Feb 20:00</text>
<text x="3.7" y="39" font-size="9.7" fill="#000" text-anchor="start" font-weight="normal" textLength="204" lengthAdjust="spacingAndGlyphs" xml:space="preserve">USDCHF-,H4  0.92112 0.92177 0.92095 0.92155</text>
<text x="-9" y="595.5" font-size="10" fill="#000" text-anchor="start" font-weight="normal" textLength="155" lengthAdjust="spacingAndGlyphs">MACD(12,26,9) -0.000674 -0.001520</text>
<text x="-9" y="767.5" font-size="10" fill="#000" text-anchor="start" font-weight="normal" textLength="69" lengthAdjust="spacingAndGlyphs">RSI(14) 57.1649</text>
<polygon points="1391.5,28 1402.5,28 1397,33.5" fill="#c0c0c0"/>
<line x1="1116" y1="203.3" x2="1317.2" y2="429.2" stroke="#ff0000" stroke-width="3.1"/>
<polygon points="1321.0,433.5 1311.5,429.3 1317.9,423.5" fill="#ff0000"/>
<line x1="1321.3" y1="443.6" x2="1387.9" y2="300.2" stroke="#ff0000" stroke-width="3.1"/>
<polygon points="1390.3,295.0 1390.2,305.4 1382.4,301.8" fill="#ff0000"/>
<line x1="1333.3" y1="730.8" x2="1380.4" y2="696.4" stroke="#ff0000" stroke-width="3.1"/>
<polygon points="1385.0,693.0 1379.9,702.1 1374.8,695.1" fill="#ff0000"/>
<line x1="1323.1" y1="886.2" x2="1393.7" y2="823.8" stroke="#ff0000" stroke-width="3.1"/>
<polygon points="1398.0,820.0 1393.7,829.5 1388.0,823.1" fill="#ff0000"/>
<rect x="1086" y="332" width="7" height="1" fill="#ff0000"/>
<rect x="1092" y="330" width="4" height="5" fill="#ff0000"/>
<rect x="1093" y="331" width="2" height="3" fill="#fff"/>
<rect x="1095" y="320" width="74" height="25" fill="#ff0000"/>
<rect x="1096" y="321" width="72" height="23" fill="#fff"/>
<text x="1096.6" y="340.8" font-size="23" fill="#ff0000" text-anchor="start" font-weight="normal" textLength="71" lengthAdjust="spacingAndGlyphs">0.92058</text>
<rect x="1314" y="447" width="11" height="1" fill="#ff0000"/>
<rect x="1253" y="438" width="62" height="19" fill="#ff0000"/>
<rect x="1254" y="439" width="60" height="17" fill="#fff"/>
<text x="1255" y="453.8" font-size="16.8" fill="#ff0000" text-anchor="start" font-weight="normal" textLength="58.3" lengthAdjust="spacingAndGlyphs">0.91493</text>
<defs>
<linearGradient id="gbtn" x1="0" y1="0" x2="0" y2="1"><stop offset="0" stop-color="#fa5252"/><stop offset="1" stop-color="#de3030"/></linearGradient>
<linearGradient id="gprice" gradientUnits="userSpaceOnUse" x1="0" y1="71" x2="0" y2="104"><stop offset="0" stop-color="#dc2c2c"/><stop offset="0.6" stop-color="#c41414"/><stop offset="1" stop-color="#b00000"/></linearGradient>
<linearGradient id="gspin" x1="0" y1="0" x2="0" y2="1"><stop offset="0" stop-color="#f4f4f4"/><stop offset="0.5" stop-color="#e4e4e4"/><stop offset="0.5" stop-color="#d4d4d4"/><stop offset="1" stop-color="#c8c8c8"/></linearGradient>
</defs>
<rect x="0" y="46" width="211" height="59" fill="#fff"/>
<rect x="0" y="47" width="43" height="24" fill="#c20000"/><rect x="0" y="48" width="42" height="23" fill="url(#gbtn)"/>
<rect x="158" y="47" width="52" height="24" fill="#c20000"/><rect x="159" y="48" width="50" height="23" fill="url(#gbtn)"/>
<rect x="0" y="71" width="100" height="33" fill="#b40000"/><rect x="0" y="71" width="99" height="32" fill="url(#gprice)"/><rect x="43" y="71" width="57" height="1" fill="#c20000"/>
<rect x="102" y="71" width="108" height="33" fill="#b40000"/><rect x="103" y="71" width="106" height="32" fill="url(#gprice)"/><rect x="102" y="71" width="57" height="1" fill="#c20000"/>
<rect x="0" y="70" width="39" height="1" fill="#a80000"/><rect x="0" y="71" width="39" height="1" fill="#f06a6a"/>
<rect x="162" y="70" width="44" height="1" fill="#a80000"/><rect x="162" y="71" width="44" height="1" fill="#f06a6a"/>
<rect x="45.5" y="47.5" width="110" height="21" fill="#fff" stroke="#a9aeb8" stroke-width="1"/>
<rect x="46" y="48" width="20" height="20" fill="#f6f6f6"/><rect x="47" y="49" width="18" height="18" fill="url(#gspin)"/><rect x="66" y="48" width="1" height="20" fill="#a9aeb8"/>
<rect x="135" y="48" width="20" height="20" fill="#f6f6f6"/><rect x="136" y="49" width="18" height="18" fill="url(#gspin)"/><rect x="134" y="48" width="1" height="20" fill="#a9aeb8"/>
<polygon points="52.7,56 58.3,56 55.5,59.2" fill="#4a5cc0"/>
<polygon points="142.2,58.8 147.8,58.8 145,55.6" fill="#4a5cc0"/>
<text x="130.3" y="61.6" font-size="12.5" text-anchor="end" fill="#000">1.00</text>
<text x="3.2" y="63" font-size="12" fill="#fff" textLength="26" lengthAdjust="spacingAndGlyphs">SELL</text>
<text x="171.5" y="63" font-size="12" fill="#fff" textLength="23.5" lengthAdjust="spacingAndGlyphs">BUY</text>
<text x="11" y="98.6" font-size="12" font-weight="bold" fill="#fff" textLength="24" lengthAdjust="spacingAndGlyphs">0.92</text>
<text x="39" y="98.7" font-size="35.3" fill="#fff" stroke="url(#gprice)" stroke-width="0.6" paint-order="fill stroke" textLength="33.5" lengthAdjust="spacingAndGlyphs">15</text>
<text x="78.3" y="83" font-size="12.3" font-weight="bold" fill="#fff">5</text>
<text x="121" y="98.6" font-size="12" font-weight="bold" fill="#fff" textLength="24" lengthAdjust="spacingAndGlyphs">0.92</text>
<text x="149" y="98.7" font-size="35.3" fill="#fff" stroke="url(#gprice)" stroke-width="0.6" paint-order="fill stroke" textLength="35" lengthAdjust="spacingAndGlyphs">17</text>
<text x="189.3" y="83" font-size="12.3" font-weight="bold" fill="#fff">9</text>
<path d="M1 12.5 l1.5 -1.5 l1.5 1.5 l-1.5 1.5z" fill="none" stroke="#333" stroke-width="0.9"/>
<rect x="0" y="18" width="1" height="2" fill="#d9a521"/>
<rect x="8" y="2" width="1" height="19" fill="#b8b8b8"/>
<g><path d="M18.5 3.5h8l3 3v10h-11z" fill="#fdfdfd" stroke="#8a8a8a"/><path d="M26.5 3.5v3h3" fill="none" stroke="#8a8a8a"/><rect x="20.5" y="5.5" width="3" height="2" fill="#b0b0b0"/><path d="M20.5 9.5h6M20.5 11.5h4M20.5 13.5h3" stroke="#a8a8a8" stroke-width="1"/><path d="M26.5 9.5h3v4h4v3h-4v4h-3v-4h-4v-3h4z" fill="#35d035" stroke="#0f8a0f" stroke-width="0.9"/></g>
<text x="38" y="14" font-size="12.3" fill="#000" textLength="63.7" lengthAdjust="spacingAndGlyphs">New Order</text>
<defs><linearGradient id="ggold" x1="0" y1="0" x2="1" y2="1"><stop offset="0" stop-color="#fbe27a"/><stop offset="0.5" stop-color="#efc030"/><stop offset="1" stop-color="#d39a18"/></linearGradient></defs>
<polygon points="114.2,13 122,18.6 129.9,11.9 129.9,13.4 122,20.2 114.2,14.6" fill="#b07a10"/>
<polygon points="114.2,12.9 121.5,4.3 129.9,11.8 122,18.5" fill="url(#ggold)" stroke="#b8860b" stroke-width="0.7"/>
<path d="M121.7 5.6 L128.3 11.6" stroke="#fff3b0" stroke-width="1" opacity="0.8"/>
<g><rect x="144.5" y="3.5" width="10" height="9" fill="#3f90e8" stroke="#2a6cc0" stroke-width="0.8"/><rect x="144.5" y="3.5" width="3" height="9" fill="#7cc0ff"/><rect x="148.5" y="5.5" width="5" height="1.2" fill="#e8f4ff"/><rect x="148.5" y="8" width="5" height="1.2" fill="#e8f4ff"/><path d="M144.5 18.3 a3 3 0 0 1 0.3 -5.6 a3.8 3.8 0 0 1 6.8 -1.2 a3.2 3.2 0 0 1 4.6 3 a2.2 2.2 0 0 1 -0.6 3.8z" fill="#eef4fc" stroke="#7f9fd0" stroke-width="0.9"/></g>
<g fill="none"><circle cx="178.1" cy="10.7" r="7.4" stroke="#c4d4ee" stroke-width="1.2"/><path d="M178.1 3.3a7.4 7.4 0 0 1 0 14.8" stroke="#8fd08f" stroke-width="1.4"/><path d="M178.1 5.8a4.9 4.9 0 0 0 0 9.8" stroke="#6c9ae0" stroke-width="1.3"/><path d="M178.1 5.8a4.9 4.9 0 0 1 0 9.8" stroke="#46b046" stroke-width="1.4"/><path d="M178.1 8.3a2.4 2.4 0 0 0 0 4.8" stroke="#5a8ad8" stroke-width="1.1"/><path d="M178.5 10.7v7.6" stroke="#2fa82f" stroke-width="1.3"/><circle cx="178.1" cy="10.5" r="1.5" fill="#2c62c8"/></g>
<g><path d="M198 9.5 L212.3 9.5 L207 17.6 L203.3 17.6Z" fill="#f6d648" stroke="#c9a020" stroke-width="0.8"/><ellipse cx="205" cy="7" rx="7.8" ry="3.1" fill="#4a93dc" stroke="#2c6cb8" stroke-width="0.7"/><ellipse cx="205" cy="5.3" rx="4.2" ry="2.4" fill="#6fb0f0"/><circle cx="209.6" cy="14.6" r="4" fill="#e0281c"/><rect x="207.9" y="12.9" width="3.4" height="3.4" fill="#fff"/></g>
<text x="218.5" y="14" font-size="12.3" fill="#000" textLength="70.6" lengthAdjust="spacingAndGlyphs">AutoTrading</text>
<rect x="297" y="2" width="1" height="19" fill="#b8b8b8"/>
<rect x="301" y="3" width="3" height="1" fill="#b0b0b0"/>
<rect x="301" y="5" width="3" height="1" fill="#b0b0b0"/>
<rect x="301" y="7" width="3" height="1" fill="#b0b0b0"/>
<rect x="301" y="9" width="3" height="1" fill="#b0b0b0"/>
<rect x="301" y="11" width="3" height="1" fill="#b0b0b0"/>
<rect x="301" y="13" width="3" height="1" fill="#b0b0b0"/>
<rect x="301" y="15" width="3" height="1" fill="#b0b0b0"/>
<rect x="301" y="17" width="3" height="1" fill="#b0b0b0"/>
<rect x="301" y="19" width="3" height="1" fill="#b0b0b0"/>
<g stroke="#555" stroke-width="1" fill="none"><path d="M315.5 5.5v13M313 16.5h13.5"/><path d="M313.8 7.5l1.7-2.2l1.7 2.2M324.5 14.8l2.2 1.7l-2.2 1.7"/></g>
<path d="M322.5 7v8M322.5 7.5h2M322.5 13.5h-3" stroke="#1f9a1f" stroke-width="1.2" fill="none"/>
<rect x="336.5" y="1" width="23" height="21" fill="#f7f7f7" stroke="#dcdcdc" stroke-width="1"/>
<g stroke="#555" stroke-width="1" fill="none"><path d="M343.5 5.5v13M341 16.5h13.5"/><path d="M341.8 7.5l1.7-2.2l1.7 2.2M352.5 14.8l2.2 1.7l-2.2 1.7"/></g>
<path d="M349.5 3.5v11" stroke="#1d7a1d" stroke-width="1"/><rect x="347.5" y="5.5" width="4" height="7" fill="#2fd02f" stroke="#1d8a1d" stroke-width="1"/>
<g stroke="#555" stroke-width="1" fill="none"><path d="M371.5 5.5v13M369 16.5h13.5"/><path d="M369.8 7.5l1.7-2.2l1.7 2.2M380.5 14.8l2.2 1.7l-2.2 1.7"/></g>
<path d="M370.5 13.5 q4 -6.5 6.5 -5 t5 4" stroke="#2a9a2a" stroke-width="1.1" fill="none"/>
<rect x="392" y="2" width="1" height="19" fill="#b8b8b8"/>
<g><path d="M411.5 13.5 L415.7 17.7" stroke="#d8b020" stroke-width="2.8" stroke-linecap="round"/><path d="M411.5 13.5 L415.7 17.7" stroke="#f2dc70" stroke-width="1" stroke-linecap="round"/><circle cx="407" cy="9.2" r="5.2" fill="#cfe4fa" stroke="#3a80d4" stroke-width="1.3"/><path d="M404 9.2h6M407 6.2v6" stroke="#2f74c8" stroke-width="1.6"/></g>
<g><path d="M439.5 13.5 L443.7 17.7" stroke="#d8b020" stroke-width="2.8" stroke-linecap="round"/><path d="M439.5 13.5 L443.7 17.7" stroke="#f2dc70" stroke-width="1" stroke-linecap="round"/><circle cx="435" cy="9.2" r="5.2" fill="#cfe4fa" stroke="#3a80d4" stroke-width="1.3"/><path d="M432 9.2h6" stroke="#2f74c8" stroke-width="1.6"/></g>
<g><rect x="457" y="3.5" width="7.7" height="7.3" fill="#3aa428"/><rect x="465" y="3.5" width="7.7" height="7.3" fill="#2858d0"/><rect x="457" y="11.1" width="7.7" height="7.3" fill="#2858d0"/><rect x="465" y="11.1" width="7.7" height="7.3" fill="#3aa428"/><rect x="458.5" y="6.5" width="5" height="3" fill="#eef6ff"/><rect x="466.5" y="6.5" width="5" height="3" fill="#eef6ff"/><rect x="458.5" y="14.2" width="5" height="3" fill="#eef6ff"/><rect x="466.5" y="14.2" width="5" height="3" fill="#eef6ff"/></g>
<rect x="482" y="2" width="1" height="19" fill="#b8b8b8"/>
<rect x="488.5" y="1" width="24" height="21" fill="#f7f7f7" stroke="#dcdcdc" stroke-width="1"/>
<g stroke="#555" stroke-width="1" fill="none"><path d="M495.5 5.5v13M493 16.5h13.5"/><path d="M493.8 7.5l1.7-2.2l1.7 2.2M504.5 14.8l2.2 1.7l-2.2 1.7"/></g>
<polygon points="500.3,7.3 500.3,14.2 504.3,10.7" fill="#7fe07f" stroke="#1f9a1f" stroke-width="1"/>
<rect x="516.5" y="1" width="24" height="21" fill="#f7f7f7" stroke="#dcdcdc" stroke-width="1"/>
<g stroke="#555" stroke-width="1" fill="none"><path d="M523.5 5.5v13M521 16.5h13.5"/><path d="M521.8 7.5l1.7-2.2l1.7 2.2M532.5 14.8l2.2 1.7l-2.2 1.7"/></g>
<path d="M529.5 5v10" stroke="#2060a8" stroke-width="1.2"/><path d="M535 10.7h-4.6m2.2-2.2l-2.2 2.2l2.2 2.2" stroke="#e05010" stroke-width="1.2" fill="none"/>
<rect x="544" y="2" width="1" height="19" fill="#b8b8b8"/>
<g><path d="M554.5 5.5v11h9v-10l-2-2h-5.5z" fill="#f8f8f8" stroke="#8a8a8a"/><path d="M556.5 3.5h6l3 3v3" fill="none" stroke="#a0a0a0"/><path d="M558.5 13v-5q0-1.5 1.5-1.5M557.5 9.5h3" stroke="#777" stroke-width="0.9" fill="none"/><path d="M562.4 9.6h3v4h4v3h-4v4h-3v-4h-4v-3h4z" fill="#35d035" stroke="#0f8a0f" stroke-width="0.9"/></g>
<polygon points="576.0,10.5 581.0,10.5 578.5,13.5" fill="#000"/>
<defs><linearGradient id="gclk" x1="0" y1="0" x2="0" y2="1"><stop offset="0" stop-color="#4a90e8"/><stop offset="1" stop-color="#0a48b0"/></linearGradient></defs>
<g><circle cx="599.8" cy="11" r="7.7" fill="url(#gclk)"/><circle cx="599.8" cy="11" r="5.4" fill="#f0f3f8"/><path d="M599.8 7.5v3.8h2.8" stroke="#333" stroke-width="1.1" fill="none"/><circle cx="599.8" cy="6.6" r="0.5" fill="#889"/><circle cx="599.8" cy="15.4" r="0.5" fill="#889"/><circle cx="595.4" cy="11" r="0.5" fill="#889"/><circle cx="604.2" cy="11" r="0.5" fill="#889"/></g>
<polygon points="615.0,10.5 620.0,10.5 617.5,13.5" fill="#000"/>
<g><rect x="631.5" y="4.5" width="15" height="13" fill="#f8fbff" stroke="#3070d0"/><rect x="631.5" y="4.5" width="15" height="2.2" fill="#3878d8"/><rect x="632" y="11.8" width="14" height="1" fill="#3070d0"/><path d="M633 10l2.5-1l2 .5l2.5-1.2l2 .6l2.5-1.2" stroke="#c02818" stroke-width="1.1" fill="none"/><path d="M633 15.5l2.5-1l2 .6l2.5-1.5l2 1.2l2.5-.6" stroke="#1f9a1f" stroke-width="1.1" fill="none"/></g>
<polygon points="654.0,10.5 659.0,10.5 656.5,13.5" fill="#000"/>
<rect x="665" y="2" width="1" height="19" fill="#b8b8b8"/>
<rect x="669" y="3" width="3" height="1" fill="#b0b0b0"/>
<rect x="669" y="5" width="3" height="1" fill="#b0b0b0"/>
<rect x="669" y="7" width="3" height="1" fill="#b0b0b0"/>
<rect x="669" y="9" width="3" height="1" fill="#b0b0b0"/>
<rect x="669" y="11" width="3" height="1" fill="#b0b0b0"/>
<rect x="669" y="13" width="3" height="1" fill="#b0b0b0"/>
<rect x="669" y="15" width="3" height="1" fill="#b0b0b0"/>
<rect x="669" y="17" width="3" height="1" fill="#b0b0b0"/>
<rect x="669" y="19" width="3" height="1" fill="#b0b0b0"/>
<rect x="675.5" y="1" width="24" height="21" fill="#f7f7f7" stroke="#dcdcdc" stroke-width="1"/>
<path d="M683.5 4.5v12l3-3l2.2 5l1.8-0.8l-2.2-4.8h4z" fill="#484848" stroke="#3a3a3a" stroke-width="0.5"/>
<path d="M715.5 4v15M708 11.5h15" stroke="#555" stroke-width="1" fill="none"/><rect x="714" y="10" width="3" height="3" fill="#f0f0f0"/>
<rect x="732" y="2" width="1" height="19" fill="#b8b8b8"/>
<path d="M749.5 5v13" stroke="#555" stroke-width="1"/><path d="M772 11.5h13" stroke="#555" stroke-width="1"/><path d="M800 17.5 L813 5.5" stroke="#555" stroke-width="1"/>
<g stroke="#555" stroke-width="1" fill="none"><path d="M826 15 L839 4M828 19 L841 8M830 12v6M834 8.5v6M838 5v6"/></g><text x="836.6" y="20" font-size="7.2" font-weight="bold" fill="#222">E</text>
<g stroke="#555" stroke-width="1" stroke-dasharray="1 1"><path d="M855 4.5h13M855 8.5h13M855 12.5h13M855 16.5h9"/></g><text x="864.8" y="20" font-size="7.2" font-weight="bold" fill="#222">F</text>
<text x="885.3" y="15.7" font-size="12" font-weight="bold" fill="#5a5a5a" textLength="8" lengthAdjust="spacingAndGlyphs">A</text>
<g fill="#666" shape-rendering="crispEdges"><rect x="912" y="5" width="1" height="1"/><rect x="912" y="17" width="1" height="1"/><rect x="914" y="5" width="1" height="1"/><rect x="914" y="17" width="1" height="1"/><rect x="916" y="5" width="1" height="1"/><rect x="916" y="17" width="1" height="1"/><rect x="918" y="5" width="1" height="1"/><rect x="918" y="17" width="1" height="1"/><rect x="920" y="5" width="1" height="1"/><rect x="920" y="17" width="1" height="1"/><rect x="922" y="5" width="1" height="1"/><rect x="922" y="17" width="1" height="1"/><rect x="924" y="5" width="1" height="1"/><rect x="924" y="17" width="1" height="1"/><rect x="912" y="5" width="1" height="1"/><rect x="924" y="5" width="1" height="1"/><rect x="912" y="7" width="1" height="1"/><rect x="924" y="7" width="1" height="1"/><rect x="912" y="9" width="1" height="1"/><rect x="924" y="9" width="1" height="1"/><rect x="912" y="11" width="1" height="1"/><rect x="924" y="11" width="1" height="1"/><rect x="912" y="13" width="1" height="1"/><rect x="924" y="13" width="1" height="1"/><rect x="912" y="15" width="1" height="1"/><rect x="924" y="15" width="1" height="1"/><rect x="912" y="17" width="1" height="1"/><rect x="924" y="17" width="1" height="1"/></g><text x="914.3" y="15.6" font-size="11.5" font-weight="bold" fill="#555">T</text>
<g fill="#444"><polygon points="939.6,7.6 942.8,4.6 946,7.6 942.8,10.6"/><polygon points="946.4,15.4 949.6,12.4 952.8,15.4 949.6,18.4"/><path d="M941.5 11.5l2.2 2.6l4.6-5" stroke="#444" stroke-width="1.1" fill="none"/></g>
<polygon points="959.5,10.5 964.5,10.5 962,13.5" fill="#000"/>
<rect x="971" y="2" width="1" height="19" fill="#b8b8b8"/>
<rect x="975" y="3" width="3" height="1" fill="#b0b0b0"/>
<rect x="975" y="5" width="3" height="1" fill="#b0b0b0"/>
<rect x="975" y="7" width="3" height="1" fill="#b0b0b0"/>
<rect x="975" y="9" width="3" height="1" fill="#b0b0b0"/>
<rect x="975" y="11" width="3" height="1" fill="#b0b0b0"/>
<rect x="975" y="13" width="3" height="1" fill="#b0b0b0"/>
<rect x="975" y="15" width="3" height="1" fill="#b0b0b0"/>
<rect x="975" y="17" width="3" height="1" fill="#b0b0b0"/>
<rect x="975" y="19" width="3" height="1" fill="#b0b0b0"/>
<rect x="1121.5" y="1" width="24" height="21" fill="#f7f7f7" stroke="#dcdcdc" stroke-width="1"/>
<text x="987" y="14.8" font-size="9.3" fill="#3c3c3c" textLength="12.5" lengthAdjust="spacingAndGlyphs">M1</text>
<text x="1014.7" y="14.8" font-size="9.3" fill="#3c3c3c" textLength="12.5" lengthAdjust="spacingAndGlyphs">M5</text>
<text x="1040.4" y="14.8" font-size="9.3" fill="#3c3c3c" textLength="18" lengthAdjust="spacingAndGlyphs">M15</text>
<text x="1068.3" y="14.8" font-size="9.3" fill="#3c3c3c" textLength="18" lengthAdjust="spacingAndGlyphs">M30</text>
<text x="1099.4" y="14.8" font-size="9.3" fill="#3c3c3c" textLength="11.5" lengthAdjust="spacingAndGlyphs">H1</text>
<text x="1126.8" y="14.8" font-size="9.3" fill="#3c3c3c" textLength="12" lengthAdjust="spacingAndGlyphs">H4</text>
<text x="1155.5" y="14.8" font-size="9.3" fill="#3c3c3c" textLength="11.5" lengthAdjust="spacingAndGlyphs">D1</text>
<text x="1182.6" y="14.8" font-size="9.3" fill="#3c3c3c" textLength="14.5" lengthAdjust="spacingAndGlyphs">W1</text>
<text x="1209.7" y="14.8" font-size="9.3" fill="#3c3c3c" textLength="14.5" lengthAdjust="spacingAndGlyphs">MN</text>
<rect x="1232" y="2" width="1" height="19" fill="#b8b8b8"/>
<defs><linearGradient id="gbadge" x1="0" y1="0" x2="0" y2="1"><stop offset="0" stop-color="#ea5636"/><stop offset="1" stop-color="#d61c0c"/></linearGradient></defs>
<g><circle cx="1650" cy="8.5" r="3.6" fill="#eaf2ff" stroke="#2f62c8" stroke-width="1.6"/><path d="M1647.3 11.3 L1642.5 16" stroke="#2f62c8" stroke-width="2.2" stroke-linecap="round"/></g>
<g><ellipse cx="1671.3" cy="13.5" rx="5.3" ry="4.6" fill="#e4e4ea" stroke="#b4b4b8"/><path d="M1668 16.5l-1 3l3.5-2.5" fill="#f8f8f8" stroke="#b0b0b0" stroke-width="0.8"/><circle cx="1680.5" cy="8.3" r="8.2" fill="url(#gbadge)"/><text x="1680.2" y="12.8" font-size="12.5" font-weight="bold" fill="#fff" text-anchor="middle">1</text></g>
</svg>
</body></html>
